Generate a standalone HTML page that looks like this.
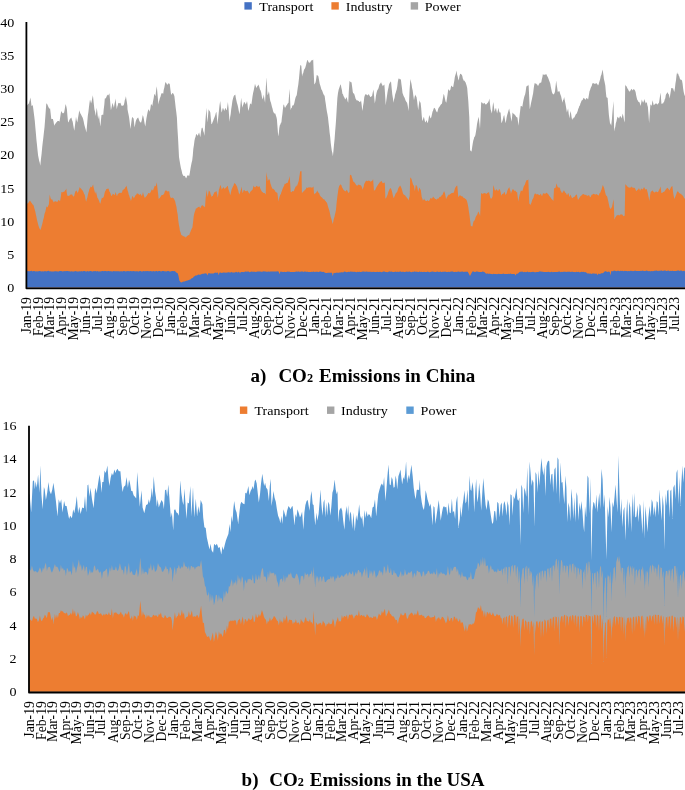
<!DOCTYPE html>
<html lang="en"><head><meta charset="utf-8"><title>CO2 Emissions</title>
<style>html,body{margin:0;padding:0;background:#fff}body{width:685px;height:790px;overflow:hidden}svg{display:block}</style></head>
<body>
<svg width="685" height="790" viewBox="0 0 685 790" font-family="'Liberation Serif', 'Times New Roman', serif" font-size="13.4" fill="#000">
<rect width="685" height="790" fill="#fff"/>
<polygon fill="#A5A5A5" points="26.3,287.6 26.3,105.2 27.4,105.2 28.0,103.9 28.5,104.1 29.1,102.8 29.7,100.5 30.4,97.5 31.0,101.4 31.5,106.0 32.2,105.6 32.8,105.2 33.5,110.4 34.2,115.9 34.8,120.9 35.4,127.9 35.9,133.5 36.5,140.6 37.0,144.9 37.6,151.0 38.1,155.4 38.6,157.9 39.2,160.9 39.7,162.4 40.3,165.7 40.9,159.4 41.6,153.7 42.2,147.2 42.8,141.9 43.3,138.0 43.9,132.4 44.5,127.2 45.0,120.9 45.7,111.6 46.3,103.6 47.0,103.7 47.7,105.2 48.2,106.5 48.8,107.7 49.5,108.7 50.1,108.5 50.7,113.7 51.3,119.2 51.8,118.7 52.4,118.9 52.9,118.9 53.6,121.7 54.2,125.8 54.9,124.3 55.6,123.5 56.2,122.5 56.9,122.0 57.5,121.0 58.2,120.9 58.9,120.9 59.5,121.7 60.1,117.7 60.6,114.5 61.2,111.0 61.8,111.9 62.5,113.5 63.0,112.5 63.6,113.4 64.1,112.6 64.6,109.9 65.1,107.1 65.6,104.1 66.3,106.3 66.9,109.3 67.5,116.6 68.1,122.5 68.7,121.8 69.4,120.0 70.1,118.7 70.7,118.2 71.4,117.6 72.0,119.9 72.7,121.7 73.2,125.0 73.8,128.3 74.3,130.7 74.9,126.0 75.4,121.9 76.0,116.7 76.6,119.9 77.3,122.5 78.0,118.1 78.6,114.4 79.3,110.2 79.8,112.1 80.4,113.4 80.9,114.3 81.5,115.4 82.0,116.6 82.6,117.6 83.1,119.1 83.7,121.6 84.2,124.2 84.8,126.6 85.3,128.2 85.8,129.9 86.4,132.4 86.9,127.0 87.3,121.7 87.8,115.9 88.4,112.1 88.9,107.5 89.4,103.5 90.0,99.5 90.6,101.5 91.1,103.6 91.7,101.2 92.3,98.1 92.9,95.3 93.4,99.9 93.9,104.7 94.4,109.3 95.1,112.0 95.7,115.9 96.7,107.7 97.2,110.9 97.7,115.7 98.2,119.2 99.0,115.1 99.7,121.5 100.4,126.6 100.9,121.0 101.5,115.1 102.1,115.0 102.6,114.6 103.2,115.1 103.7,109.6 104.3,104.8 104.8,98.6 105.5,98.6 106.1,97.8 106.7,96.2 107.3,94.5 107.8,95.4 108.4,95.3 109.4,93.2 109.9,98.5 110.4,104.5 110.9,110.2 111.4,108.3 112.0,105.3 112.5,102.8 113.2,105.2 113.9,107.7 114.4,104.4 115.0,101.7 115.5,98.6 116.2,104.6 116.8,109.3 117.3,106.5 117.8,105.3 118.3,102.8 118.8,103.2 119.4,103.3 119.9,103.1 120.4,102.8 121.1,104.8 121.8,106.0 122.4,105.8 123.1,105.6 123.7,105.2 124.3,102.9 124.8,100.1 125.3,98.9 125.9,96.2 126.4,99.6 126.9,102.3 127.4,106.0 127.5,109.3 128.0,112.1 128.6,114.8 129.1,117.6 129.8,123.1 130.4,129.1 131.0,124.8 131.5,120.9 132.1,116.7 132.6,117.5 133.1,118.0 133.6,118.4 134.6,127.5 135.1,124.9 135.6,121.9 136.2,120.0 136.9,118.8 137.5,117.9 138.2,117.6 138.7,119.1 139.3,120.8 139.8,121.7 140.5,122.5 141.1,122.5 141.7,120.5 142.2,118.0 142.8,115.1 143.4,116.8 143.9,119.2 144.6,123.4 145.3,126.6 145.8,122.8 146.4,118.4 147.1,114.8 147.7,111.7 148.4,109.3 149.0,109.9 149.7,111.8 150.4,108.3 151.0,104.1 151.7,104.7 152.3,106.0 153.0,101.4 153.7,98.0 154.3,93.7 154.9,94.7 155.5,96.2 156.1,90.6 156.8,86.3 157.3,91.8 157.9,98.4 158.4,104.4 158.9,101.8 159.4,99.9 159.9,98.1 160.5,96.8 161.0,94.8 161.6,93.2 162.1,93.1 162.7,93.5 163.2,93.7 163.7,90.1 164.3,87.8 164.8,84.9 165.3,82.2 165.9,82.6 166.4,83.3 167.0,84.6 167.5,84.8 168.1,83.8 168.6,83.3 169.2,83.4 169.8,84.3 170.4,89.6 171.1,94.5 171.7,94.5 172.2,93.0 172.8,93.2 173.3,93.5 173.9,94.7 174.4,96.2 175.1,102.2 175.7,107.7 176.3,112.2 176.9,117.6 177.4,127.7 178.0,137.3 179.0,157.1 179.7,161.2 180.3,164.8 181.0,168.6 181.6,170.4 182.3,173.7 183.0,175.2 183.5,175.9 184.1,175.8 184.6,176.0 185.2,176.4 185.7,177.7 186.3,178.2 186.9,176.5 187.6,175.2 188.1,175.6 188.7,175.5 189.2,176.0 189.9,172.5 190.5,168.6 191.1,165.3 191.6,162.8 192.2,160.4 192.8,155.3 193.3,148.9 193.9,145.3 194.5,140.6 195.0,138.2 195.6,136.7 196.1,134.0 196.8,134.6 197.5,135.7 198.0,135.2 198.5,133.8 199.1,132.4 199.7,134.7 200.3,137.3 200.9,132.5 201.6,128.3 202.1,127.6 202.7,128.3 203.3,131.3 203.8,132.6 204.4,135.7 205.4,120.9 205.9,114.7 206.5,107.7 207.3,122.5 208.0,116.6 208.6,109.3 209.2,110.5 209.7,111.1 210.3,112.6 210.9,118.9 211.4,124.2 212.0,123.7 212.5,122.2 213.1,120.9 213.6,119.5 214.2,118.0 214.7,116.7 215.3,114.9 215.8,113.0 216.4,111.8 217.0,118.2 217.5,124.2 218.2,117.5 218.9,111.0 219.5,105.6 220.2,101.1 220.8,106.3 221.5,112.6 222.0,111.2 222.5,109.1 223.0,107.7 223.6,109.3 224.3,111.0 224.9,109.1 225.4,107.7 226.1,109.4 226.8,110.2 227.3,106.6 227.9,101.9 228.5,107.8 229.0,114.7 229.6,121.7 230.1,117.3 230.7,114.1 231.2,109.3 231.8,105.6 232.4,101.1 233.0,98.4 233.7,96.2 234.2,95.2 234.7,95.3 235.3,94.5 235.8,97.7 236.4,100.6 236.9,102.8 237.6,105.0 238.2,107.7 238.9,111.5 239.6,114.3 240.1,109.1 240.6,103.3 241.2,97.8 241.8,103.4 242.3,107.7 242.9,105.4 243.4,104.2 244.0,101.9 244.5,102.2 245.1,103.1 245.6,104.4 246.3,103.3 247.0,101.1 247.5,104.0 247.9,108.1 248.4,111.0 249.0,108.7 249.5,106.5 250.1,103.6 250.7,103.8 251.4,104.4 252.0,100.3 252.5,96.4 253.1,92.9 253.7,90.4 254.4,87.0 255.0,83.8 255.6,85.8 256.1,87.1 256.7,87.9 257.2,86.3 257.8,85.8 258.3,84.6 258.9,85.7 259.4,87.3 260.0,89.6 260.6,90.6 261.3,92.9 261.9,96.7 262.6,99.5 263.2,97.4 263.8,94.5 264.4,99.1 265.1,102.8 265.7,89.8 266.4,77.2 267.0,86.4 267.5,95.3 268.2,93.7 268.9,91.2 269.4,94.3 269.8,97.9 270.3,101.1 270.9,102.6 271.4,104.4 272.0,106.9 272.5,108.5 273.1,111.3 273.6,112.6 274.2,113.0 274.7,113.8 275.3,113.5 275.8,115.3 276.4,117.0 276.9,119.2 277.6,128.3 278.2,136.5 278.8,133.1 279.3,128.1 279.9,125.0 280.4,124.4 280.9,122.8 281.4,122.5 281.9,117.4 282.4,114.0 283.0,108.3 283.5,104.4 284.1,105.1 284.6,107.3 285.2,107.7 285.7,106.8 286.3,105.5 286.8,105.2 287.4,103.9 287.9,103.2 288.5,102.8 289.0,96.1 289.6,88.8 290.6,110.2 291.1,108.2 291.7,108.0 292.2,106.0 292.8,105.3 293.3,105.6 293.9,104.4 294.4,102.8 295.0,99.7 295.5,97.8 296.1,96.2 296.7,95.3 297.2,91.7 297.8,87.6 298.3,84.6 299.0,78.3 299.7,70.8 300.3,64.9 301.3,65.7 302.1,76.4 302.7,73.8 303.2,73.2 303.8,70.6 304.3,69.3 304.9,68.6 305.4,67.3 306.1,64.8 306.7,62.1 307.4,59.9 307.9,60.2 308.5,62.2 309.0,62.4 309.6,62.8 310.1,62.5 310.7,61.6 311.3,60.5 311.9,60.2 312.5,60.3 313.2,59.6 313.7,72.8 314.3,84.6 315.0,83.5 315.6,82.2 316.2,78.7 316.8,74.8 317.3,75.5 317.9,75.5 318.4,76.4 319.1,80.2 319.7,83.8 320.3,85.5 320.8,87.3 321.4,89.6 321.9,90.1 322.5,91.5 323.0,92.9 323.6,94.6 324.1,95.0 324.7,96.2 325.2,100.2 325.8,104.1 326.3,107.7 326.9,111.6 327.4,114.1 328.0,117.6 328.5,122.2 329.1,127.2 329.6,132.4 330.2,137.1 330.7,142.8 331.3,147.2 331.8,150.8 332.4,153.0 332.9,156.3 333.5,150.3 334.0,144.8 334.6,139.0 335.1,132.0 335.7,124.8 336.2,117.6 336.8,107.3 337.4,97.8 338.0,93.0 338.7,89.6 339.4,87.5 340.1,85.5 340.8,84.3 341.3,87.5 341.9,90.0 342.4,93.7 343.0,94.2 343.5,96.1 344.1,97.0 344.6,97.9 345.2,99.5 345.9,98.6 346.5,97.0 347.1,98.9 347.6,101.3 348.2,102.8 348.8,91.4 349.5,81.0 350.1,81.4 350.8,82.2 351.5,82.2 352.1,86.5 352.8,92.0 353.3,93.5 353.9,93.2 354.4,94.5 355.0,96.6 355.5,98.5 356.1,99.5 356.7,100.5 357.4,100.3 358.1,101.1 358.6,100.8 359.2,101.7 359.7,101.9 360.4,101.7 361.0,100.3 361.5,103.6 362.0,108.0 362.5,111.0 363.1,105.8 363.7,102.2 364.3,97.0 364.9,95.2 365.4,94.5 366.0,93.7 366.5,94.8 367.1,95.2 367.6,95.3 368.2,95.1 368.8,93.7 369.3,95.3 369.9,96.2 370.4,97.0 371.0,97.0 371.5,96.0 372.0,96.2 372.7,92.8 373.4,89.6 373.9,93.8 374.4,99.2 374.8,103.6 375.4,100.2 375.9,96.1 376.5,92.9 377.2,90.6 377.8,89.6 378.4,88.6 378.9,86.7 379.5,84.6 380.0,83.9 380.6,83.1 381.1,82.2 381.7,84.0 382.2,84.8 382.8,86.3 383.3,85.6 383.9,85.0 384.4,84.6 385.1,94.6 385.7,105.2 386.3,100.4 386.8,97.2 387.4,92.9 387.9,90.0 388.5,87.5 389.0,84.6 389.7,82.9 390.3,82.2 391.0,81.3 391.6,87.4 392.3,94.5 392.9,98.1 393.5,102.8 394.0,99.7 394.6,97.7 395.1,94.5 395.7,92.7 396.2,91.1 396.7,89.6 397.3,86.2 397.8,82.1 398.4,78.9 399.0,78.3 399.6,79.2 400.2,79.2 400.9,79.4 401.4,84.1 402.0,88.3 402.5,92.9 403.1,94.5 403.6,95.9 404.2,97.0 404.7,98.0 405.3,99.7 405.8,101.1 406.5,101.9 407.1,102.8 407.6,105.1 408.1,108.1 408.6,111.0 409.6,89.6 410.4,78.9 411.0,81.8 411.6,84.6 412.1,88.1 412.7,90.4 413.4,95.9 414.0,100.3 414.6,97.1 415.2,94.5 415.8,96.0 416.5,97.0 417.1,100.7 417.6,105.2 418.2,110.2 418.8,105.2 419.5,100.3 420.0,102.0 420.6,102.8 421.2,108.3 421.7,115.2 422.3,120.9 422.8,120.0 423.4,117.9 423.9,116.7 424.6,119.9 425.2,122.5 425.8,121.8 426.4,120.0 427.0,121.5 427.7,123.3 428.2,120.9 428.7,118.2 429.2,115.1 429.7,116.3 430.3,117.8 430.8,118.4 431.4,116.8 431.9,114.6 432.5,111.8 433.1,110.5 433.7,108.6 434.3,107.7 434.8,108.2 435.3,108.9 435.8,110.2 436.4,111.5 437.1,112.6 437.6,111.3 438.2,108.7 438.7,107.7 439.3,107.1 439.8,106.3 440.4,105.2 440.9,104.5 441.5,104.1 442.0,103.6 442.6,99.8 443.1,97.3 443.7,93.7 444.3,95.5 444.9,98.6 445.6,101.4 446.3,102.8 446.9,98.8 447.6,94.2 448.2,89.6 448.8,89.5 449.3,90.7 449.9,90.4 450.4,89.4 451.0,86.6 451.5,85.5 452.1,86.4 452.6,87.0 453.2,87.1 453.7,84.0 454.3,80.8 454.8,77.2 455.4,75.0 455.9,73.4 456.5,70.6 457.1,74.6 457.8,77.1 458.4,80.5 459.0,78.8 459.5,76.0 460.1,73.9 460.6,73.7 461.2,74.2 461.7,74.8 462.3,75.9 462.8,78.6 463.4,79.7 463.9,81.0 464.5,80.4 465.0,81.7 465.5,82.2 466.1,84.0 466.6,85.5 467.2,87.9 467.7,94.2 468.3,101.1 469.3,117.6 470.1,150.5 470.6,150.4 471.1,151.4 471.6,151.3 472.2,147.1 472.7,143.8 473.3,140.6 473.8,139.1 474.3,137.1 474.9,136.5 475.4,134.9 476.0,131.4 476.5,128.2 477.0,124.2 477.6,121.3 478.1,118.9 478.7,116.7 479.4,123.0 480.0,129.1 480.6,115.2 481.2,101.9 481.7,102.6 482.3,102.7 482.8,103.6 483.4,103.6 483.9,103.4 484.5,102.8 485.0,103.7 485.6,104.5 486.1,104.4 486.7,103.9 487.2,103.3 487.8,102.8 488.3,101.9 488.9,100.4 489.4,98.6 490.0,104.1 490.6,109.3 491.2,111.2 491.9,113.5 492.5,107.4 493.2,101.9 493.7,104.7 494.2,108.9 494.7,111.8 495.3,109.2 496.0,107.7 496.6,110.9 497.1,113.5 497.8,110.6 498.5,107.7 499.0,110.8 499.6,112.6 500.6,112.6 501.4,123.3 502.0,122.1 502.5,120.7 503.1,118.4 503.6,116.2 504.2,115.1 504.9,119.2 505.5,123.3 506.1,120.7 506.6,117.6 507.2,115.1 507.8,112.9 508.5,110.5 509.2,108.5 509.7,111.6 510.3,113.9 510.8,117.6 511.6,121.7 512.5,112.6 513.0,113.1 513.5,113.7 514.1,114.3 514.6,114.6 515.2,115.2 515.7,115.9 516.3,116.9 516.8,117.3 517.4,117.6 518.0,121.7 518.5,125.8 519.5,115.9 520.1,111.2 520.7,106.0 521.2,106.1 521.8,106.2 522.3,106.9 522.9,103.2 523.4,100.5 524.0,97.8 524.5,96.0 525.1,94.5 525.6,92.0 526.4,86.3 527.0,86.3 527.5,85.5 528.1,85.7 528.6,84.6 529.2,96.9 529.7,109.3 530.4,106.5 531.1,102.8 531.6,100.4 532.0,98.7 532.5,96.2 533.1,93.6 533.6,89.3 534.1,85.8 534.7,83.0 535.2,83.4 535.8,83.6 536.3,83.8 536.9,84.4 537.4,84.8 538.0,86.3 538.5,85.0 539.1,84.0 539.6,83.0 540.2,82.6 540.7,82.9 541.3,82.2 541.8,79.5 542.4,77.0 542.9,73.9 543.5,74.8 544.0,74.8 544.6,74.8 545.1,74.5 545.7,74.6 546.2,73.9 546.8,75.2 547.3,76.3 547.9,77.2 548.6,78.9 549.2,80.7 549.7,82.0 550.3,83.8 550.8,86.7 551.4,89.5 551.9,92.0 552.5,93.5 553.0,94.1 553.6,94.5 554.2,93.8 554.9,92.0 555.5,86.7 556.2,80.5 556.7,84.8 557.3,88.4 557.8,92.0 558.4,91.6 558.9,91.2 559.5,91.2 560.0,93.2 560.6,95.0 561.1,96.2 561.8,99.5 562.5,102.8 563.0,100.3 563.6,99.4 564.1,97.0 564.6,99.4 565.1,101.9 565.6,104.4 566.2,107.9 566.9,112.6 567.5,110.6 568.1,108.5 568.7,113.8 569.4,118.4 569.9,114.6 570.5,111.0 571.1,113.8 571.6,117.2 572.2,120.0 572.7,118.5 573.3,118.4 573.8,117.6 574.4,117.4 574.9,116.2 575.5,115.1 576.0,114.1 576.6,113.7 577.1,112.6 577.7,111.1 578.2,108.9 578.8,107.7 579.3,105.9 579.9,105.5 580.4,103.6 581.0,102.2 581.5,100.8 582.0,100.3 582.6,99.9 583.1,98.7 583.7,97.8 584.2,98.2 584.8,98.9 585.3,99.5 585.9,99.4 586.4,98.1 587.0,98.1 587.6,99.0 588.1,99.5 588.8,95.6 589.5,91.2 590.0,90.3 590.6,88.2 591.1,87.1 591.7,85.9 592.2,84.0 592.8,83.0 593.3,83.4 593.9,83.1 594.4,83.8 594.9,83.9 595.5,83.8 596.0,83.0 596.7,83.6 597.4,84.3 598.0,85.5 598.6,84.5 599.1,82.5 599.6,81.0 600.2,78.9 600.8,75.9 601.4,74.7 602.0,72.0 602.6,69.5 603.3,73.9 603.9,78.9 604.6,82.1 605.3,85.5 605.8,91.6 606.4,97.0 607.0,97.8 607.6,97.8 608.2,106.0 608.9,115.1 609.5,119.4 610.0,123.3 610.6,124.1 611.2,125.8 611.9,119.5 612.5,111.8 613.5,101.1 614.2,131.6 614.7,128.7 615.3,126.7 615.8,123.3 616.4,121.5 616.9,119.1 617.5,116.7 618.0,117.0 618.5,117.9 619.1,118.4 619.7,116.7 620.3,115.9 620.9,116.7 621.6,118.4 622.1,116.2 622.7,113.5 623.4,116.6 624.0,120.0 624.7,122.5 625.2,84.6 625.7,85.8 626.3,85.9 626.8,87.1 627.5,88.6 628.2,89.6 628.7,90.7 629.3,91.0 629.8,92.0 630.4,90.4 630.9,89.7 631.4,88.8 632.0,89.6 632.6,90.4 633.3,89.3 633.9,89.2 634.5,89.7 635.0,90.5 635.6,92.0 636.2,95.5 636.9,98.6 637.4,100.3 637.9,100.4 638.4,101.9 639.0,101.7 639.7,102.8 640.5,106.0 641.2,103.0 641.8,99.5 642.5,101.5 643.1,102.8 643.7,101.6 644.3,99.1 644.8,100.8 645.3,101.9 645.8,103.6 646.8,101.9 647.3,104.9 647.9,106.9 648.5,114.6 649.1,123.3 649.7,114.1 650.4,104.4 651.0,104.7 651.7,106.0 652.5,100.3 653.1,102.6 653.7,105.2 654.3,104.7 655.0,104.0 655.7,103.6 656.2,103.4 656.8,103.7 657.3,104.4 657.9,104.3 658.4,103.2 659.0,102.8 659.5,99.5 660.1,95.5 660.6,92.5 661.4,103.6 662.0,103.9 662.5,103.3 663.1,103.6 663.6,102.3 664.2,101.4 664.7,99.5 665.3,98.2 665.8,95.0 666.4,93.7 667.0,93.3 667.5,92.0 668.2,93.8 668.9,94.5 669.7,98.6 670.2,94.8 670.8,91.3 671.3,87.9 671.9,88.0 672.4,88.5 673.0,87.9 673.6,89.9 674.3,92.0 674.9,88.5 675.4,83.8 676.0,80.3 676.5,75.6 677.1,72.3 677.6,74.0 678.2,73.8 678.7,75.6 679.3,76.5 679.8,78.6 680.4,79.7 680.9,79.4 681.5,80.1 682.0,80.5 682.6,83.8 683.1,88.2 683.7,92.0 684.3,94.6 685.0,96.2 685.7,97.3 686.3,96.6 687.0,97.8 687.0,97.8 687.0,287.6"/>
<polygon fill="#ED7D31" points="26.3,287.6 26.3,203.4 27.2,203.4 27.8,203.5 28.3,203.0 28.8,202.1 29.4,201.2 29.9,200.8 30.4,201.0 31.0,202.2 31.5,202.8 32.0,203.4 32.6,204.4 33.1,204.7 33.7,205.8 34.2,207.8 34.7,209.6 35.3,211.4 35.8,214.2 36.3,216.3 36.9,219.4 37.4,221.5 37.9,223.6 38.5,225.8 39.1,227.4 39.8,229.1 40.4,229.9 41.0,228.5 41.6,226.2 42.2,224.2 42.7,222.0 43.2,219.7 43.8,217.8 44.3,215.1 44.8,213.0 45.4,211.4 45.9,208.9 46.5,206.6 47.1,206.8 47.6,207.4 48.3,205.6 48.9,204.2 49.7,194.5 50.4,197.4 51.0,199.3 51.6,199.4 52.1,199.3 52.7,200.5 53.2,201.2 53.7,202.6 54.3,201.6 54.8,201.6 55.3,201.4 55.9,201.1 56.4,201.7 56.9,201.8 57.5,201.8 58.0,200.9 58.5,200.1 59.1,200.0 59.6,201.2 60.1,201.0 60.8,196.9 61.4,192.1 62.0,192.3 62.5,192.4 63.0,191.8 63.6,192.0 64.1,191.8 64.6,191.3 65.2,190.2 65.7,190.1 66.3,188.6 66.8,192.9 67.4,196.1 67.9,195.6 68.4,196.1 69.0,195.7 69.5,195.5 70.1,194.9 70.6,194.5 71.1,194.6 71.7,194.5 72.2,194.5 72.7,195.8 73.3,196.1 73.8,196.9 74.3,195.5 74.9,193.0 75.4,191.3 76.0,191.2 76.5,190.2 77.2,192.0 77.8,192.9 78.5,190.9 79.1,189.0 79.7,187.0 80.3,188.1 80.8,188.5 81.3,188.9 81.9,189.7 82.4,190.2 83.0,191.3 83.5,192.2 84.0,193.7 84.6,194.5 85.1,196.5 85.6,199.8 86.2,201.8 86.7,199.3 87.2,198.0 87.8,195.3 88.3,193.0 88.8,191.6 89.4,188.9 90.0,187.9 90.7,186.5 91.2,186.9 91.8,187.3 92.4,185.9 93.1,184.4 93.6,187.2 94.2,189.7 95.2,193.7 96.0,191.3 96.4,193.6 96.9,195.4 97.4,197.7 98.0,198.6 98.7,200.1 99.2,201.3 99.8,203.0 100.3,203.7 100.8,201.8 101.4,199.2 101.9,197.7 102.4,198.0 103.0,197.7 103.5,197.3 104.0,195.8 104.6,192.9 105.1,191.3 105.6,190.8 106.2,189.2 106.7,188.9 107.3,189.0 107.8,188.4 108.3,188.6 108.9,189.4 109.4,191.4 109.9,192.1 110.6,193.7 111.2,196.1 111.8,195.4 112.3,195.0 112.8,193.7 113.4,194.0 113.9,194.4 114.4,195.3 115.0,194.2 115.6,192.1 116.2,194.0 116.8,196.1 117.3,195.6 117.8,194.0 118.3,193.7 118.8,193.3 119.4,192.8 119.9,192.9 120.4,193.1 121.0,192.4 121.5,192.9 122.0,192.4 122.6,190.2 123.1,189.7 123.6,189.7 124.2,188.6 124.7,188.9 125.2,187.4 125.8,186.9 126.3,185.4 127.0,187.5 127.6,190.5 128.2,191.9 128.7,194.4 129.3,195.8 129.8,197.7 130.4,198.8 130.9,201.0 131.6,199.1 132.2,196.1 132.8,196.5 133.3,197.2 133.8,198.5 134.4,197.3 134.9,196.5 135.4,195.3 136.1,195.0 136.8,193.6 137.5,193.4 138.1,193.7 138.6,193.9 139.1,195.0 139.7,194.5 140.2,194.5 140.7,193.7 141.3,195.2 141.9,196.1 142.4,194.6 143.0,192.1 143.5,194.3 144.1,196.3 144.6,197.7 145.3,197.4 146.0,196.6 146.7,196.1 147.2,194.7 147.8,194.2 148.3,192.9 148.8,193.0 149.4,193.0 149.9,193.7 150.4,192.3 151.0,191.5 151.5,189.7 152.0,189.5 152.6,190.3 153.1,190.5 153.6,188.8 154.2,187.3 154.7,185.7 155.3,185.7 155.8,186.5 156.8,182.2 157.4,187.7 157.9,192.1 158.7,199.3 159.3,198.3 159.8,197.9 160.3,196.9 161.0,196.2 161.6,195.1 162.3,195.0 162.8,194.9 163.3,194.3 163.9,194.5 164.4,192.7 164.9,191.3 165.5,190.5 166.0,190.4 166.5,190.6 167.1,191.3 167.8,191.5 168.5,191.3 169.2,191.3 169.7,194.7 170.3,196.9 170.8,197.7 171.4,198.1 171.9,197.7 172.4,197.6 173.0,198.0 173.5,198.2 174.0,198.8 174.6,200.2 175.1,201.0 175.7,203.9 176.4,206.6 177.0,210.9 177.7,214.6 178.2,219.7 178.8,224.2 179.4,227.2 179.9,230.7 180.6,232.6 181.2,234.7 181.7,235.2 182.3,235.2 182.8,236.3 183.3,235.9 183.9,236.5 184.4,236.8 185.0,236.5 185.5,237.5 186.0,237.4 186.6,236.6 187.1,235.9 187.6,235.8 188.2,235.2 188.7,235.0 189.2,235.2 189.8,233.3 190.3,232.2 190.8,230.7 191.4,229.5 191.9,228.3 192.4,227.4 193.1,222.0 193.7,216.2 194.3,213.5 194.9,211.4 195.4,210.3 196.0,208.2 196.5,208.5 197.1,207.9 197.6,207.4 198.1,207.0 198.7,206.9 199.2,206.6 199.8,207.5 200.5,208.2 201.0,206.6 201.5,205.9 202.1,205.0 202.6,205.5 203.2,205.7 203.7,206.6 204.3,206.5 205.0,207.4 205.6,198.5 206.6,189.7 207.1,193.7 207.7,196.9 208.3,193.6 208.8,190.5 209.5,191.3 210.1,192.1 210.6,194.2 211.2,195.5 211.7,196.9 212.3,195.9 212.8,195.9 213.3,194.5 213.9,193.6 214.4,192.3 214.9,192.1 215.5,192.1 216.0,191.1 216.5,191.3 217.2,194.3 217.8,197.7 218.4,194.1 218.9,189.7 219.5,188.3 220.0,185.9 220.6,184.9 221.2,187.2 221.8,189.7 222.3,188.8 222.8,188.1 223.3,187.3 223.8,187.5 224.4,188.5 224.9,188.9 225.4,187.9 226.0,187.6 226.5,187.3 227.1,186.3 227.8,185.7 228.4,189.0 229.1,191.3 229.6,192.8 230.2,195.3 230.7,193.5 231.3,190.7 231.8,188.9 232.3,187.9 232.9,186.6 233.4,185.7 233.9,184.2 234.5,182.8 235.0,183.8 235.6,184.1 236.1,184.9 236.6,185.8 237.2,187.1 237.7,188.9 238.2,190.3 238.8,193.1 239.3,194.5 239.9,193.1 240.4,191.3 241.0,189.5 241.6,186.5 242.5,192.9 243.1,192.1 243.6,190.2 244.1,189.7 244.7,190.4 245.2,191.1 245.7,191.3 246.3,191.3 246.8,190.8 247.3,190.5 248.0,191.4 248.6,192.6 249.3,193.7 249.8,193.3 250.3,191.8 250.9,191.3 251.4,190.8 251.9,190.2 252.5,189.7 253.0,188.1 253.6,185.4 254.2,186.7 254.9,187.3 255.4,187.3 256.0,186.6 256.5,185.7 257.0,186.0 257.6,186.4 258.1,187.3 258.7,186.6 259.2,186.0 259.8,187.0 260.3,188.4 260.8,189.7 261.4,190.7 261.9,191.8 262.4,192.1 263.0,192.5 263.5,193.0 264.0,192.9 264.6,193.0 265.1,193.8 265.7,194.5 266.3,172.0 266.8,175.6 267.3,177.5 267.7,180.9 268.3,180.2 268.8,179.3 269.3,179.3 269.9,180.6 270.4,183.5 271.0,184.9 271.5,186.8 272.0,187.7 272.6,188.9 273.1,188.7 273.6,189.2 274.2,189.7 274.7,190.2 275.2,191.5 275.8,192.1 276.3,192.6 276.8,192.6 277.4,192.9 277.9,197.2 278.5,201.4 279.1,198.3 279.8,196.1 280.3,194.8 280.9,194.0 281.4,192.1 281.9,191.1 282.5,189.0 283.0,188.1 283.5,186.8 284.1,185.7 284.6,184.1 285.1,183.5 285.7,184.0 286.2,183.3 286.7,183.0 287.3,183.0 287.8,182.5 288.5,180.2 289.1,178.8 289.7,176.1 290.7,192.1 291.2,192.2 291.8,191.7 292.3,191.3 292.8,190.9 293.4,191.2 293.9,191.3 294.5,189.1 295.0,188.2 295.5,186.5 296.1,186.7 296.6,185.6 297.1,185.7 297.7,184.1 298.2,182.5 298.7,180.9 299.2,177.4 299.7,174.5 300.2,170.9 300.8,171.4 301.5,170.9 301.9,192.9 302.5,192.6 303.0,191.8 303.6,191.3 304.1,191.3 304.6,190.0 305.2,189.7 305.7,189.2 306.2,188.3 306.8,187.3 307.3,187.7 307.8,187.9 308.4,187.6 308.9,187.2 309.4,187.6 310.0,187.3 310.5,187.3 311.0,187.7 311.6,187.6 312.2,187.8 312.9,187.0 313.5,186.5 314.1,194.5 314.7,193.4 315.2,193.4 315.8,192.9 316.2,192.4 316.7,191.8 317.2,190.5 317.7,191.5 318.3,192.5 318.8,192.9 319.3,193.4 319.9,195.6 320.4,196.1 321.1,196.9 321.7,197.3 322.3,197.7 322.9,198.8 323.4,199.3 323.9,199.3 324.5,199.4 325.0,200.8 325.6,201.0 326.1,202.1 326.6,202.2 327.2,203.4 327.7,205.5 328.2,207.2 328.8,209.0 329.3,210.6 329.9,213.0 330.5,216.2 331.2,218.6 331.7,219.9 332.2,222.3 332.8,223.9 333.3,221.5 333.8,219.0 334.4,217.0 334.9,214.7 335.5,212.2 336.0,209.8 336.6,203.0 337.3,196.9 337.8,193.5 338.4,188.9 339.0,186.5 339.7,185.3 340.3,184.5 340.9,184.4 341.5,185.6 342.0,187.3 342.5,188.1 343.1,189.1 343.6,190.0 344.2,190.5 344.7,190.8 345.2,191.3 345.8,191.3 346.7,189.7 347.2,190.6 347.7,191.6 348.2,192.9 348.8,192.5 349.5,192.1 349.9,175.3 350.5,174.8 351.0,175.1 351.5,175.7 352.0,177.8 352.5,178.8 353.0,180.9 353.5,181.7 354.1,182.3 354.6,182.5 355.1,183.2 355.7,184.3 356.2,184.9 356.7,185.4 357.3,185.6 357.8,185.4 358.3,184.8 358.9,184.6 359.4,184.9 359.9,184.9 360.5,185.2 361.0,185.4 361.6,186.6 362.1,187.7 362.6,189.7 363.2,187.9 363.7,186.5 364.2,184.1 364.8,182.9 365.3,182.0 365.8,180.9 366.4,180.7 366.9,180.8 367.4,180.9 368.0,181.2 368.5,180.4 369.0,180.6 369.6,181.1 370.1,181.3 370.7,181.7 371.3,181.3 371.9,180.9 372.5,180.4 373.1,178.9 374.0,191.3 374.6,190.0 375.1,190.1 375.6,188.9 376.2,187.6 376.7,186.9 377.2,185.7 377.8,185.2 378.4,184.1 379.0,183.5 379.6,182.5 380.2,181.8 380.7,181.8 381.3,180.9 381.8,181.2 382.3,182.6 382.9,183.3 383.5,182.9 384.1,182.8 384.8,182.5 385.4,198.5 386.0,198.2 386.5,197.3 387.0,196.1 387.6,194.7 388.1,192.7 388.6,191.3 389.2,189.9 389.7,189.1 390.2,188.1 390.9,188.6 391.5,189.7 392.2,192.3 392.8,195.3 393.4,197.3 393.9,198.2 394.5,196.3 395.0,195.6 395.5,193.7 396.1,193.0 396.6,192.5 397.1,192.1 397.7,190.3 398.2,188.4 398.8,187.3 399.3,186.7 399.8,185.8 400.4,185.7 400.9,187.0 401.4,188.1 402.0,189.7 402.5,191.8 403.0,193.4 403.6,194.5 404.1,194.7 404.6,195.2 405.2,195.3 405.7,196.6 406.2,196.7 406.8,197.7 407.4,198.2 408.0,199.2 408.6,200.5 409.1,197.9 409.7,196.1 410.2,176.9 410.6,177.9 411.1,178.3 411.6,179.3 412.2,181.5 412.9,184.1 413.4,185.2 414.0,185.7 414.8,191.3 415.8,184.9 416.3,185.1 416.7,186.3 417.2,186.5 418.2,192.1 418.7,190.0 419.3,187.6 419.8,188.2 420.3,189.4 420.8,189.7 421.7,196.9 422.3,198.5 422.8,200.5 423.5,200.0 424.1,198.5 424.7,199.9 425.2,200.2 425.7,201.0 426.3,200.9 426.8,201.0 427.3,200.1 427.9,200.7 428.4,201.0 428.9,201.0 429.5,200.3 430.0,199.3 430.6,197.7 431.2,198.4 431.8,198.5 432.4,198.2 433.0,196.6 433.5,196.9 434.0,197.8 434.6,198.2 435.2,199.0 435.9,199.1 436.5,199.8 437.0,199.3 437.6,198.6 438.1,198.5 438.6,198.6 439.2,197.3 439.7,196.9 440.2,196.6 440.8,196.9 441.3,196.1 441.8,195.0 442.4,195.1 442.9,193.7 443.6,192.1 444.2,191.3 445.1,193.7 446.1,199.3 446.6,197.7 447.2,197.0 447.7,196.1 448.3,195.2 448.8,194.5 449.4,194.8 449.9,194.5 450.4,193.7 451.0,193.8 451.5,193.1 452.0,192.9 452.6,193.0 453.1,192.6 453.7,192.9 454.2,191.3 454.8,188.9 455.4,187.6 456.1,186.5 456.7,185.8 457.3,185.7 458.3,196.9 458.9,196.6 459.5,195.4 460.1,195.3 460.6,195.4 461.1,196.4 461.7,196.1 462.2,196.2 462.8,196.8 463.3,197.7 463.8,197.7 464.4,198.0 464.9,198.5 465.4,199.0 466.0,199.3 466.5,200.1 467.1,201.6 467.6,203.4 468.3,207.1 468.9,211.4 469.5,215.1 470.0,219.4 470.8,225.8 471.4,226.2 471.9,226.2 472.4,226.6 473.4,221.8 473.9,220.9 474.5,220.5 475.0,219.4 475.5,217.6 476.1,216.3 476.6,215.4 477.3,214.5 477.9,212.6 478.5,211.4 479.1,213.3 479.6,214.2 480.1,216.2 481.1,192.9 481.6,193.2 482.2,193.9 482.7,193.7 483.3,193.3 483.8,193.5 484.3,192.9 484.9,193.3 485.4,193.3 485.9,193.7 486.5,194.1 487.0,193.1 487.5,192.9 488.0,192.6 488.5,192.5 489.0,192.1 489.6,194.7 490.3,197.7 490.7,198.4 491.2,198.4 491.7,198.5 492.7,196.1 493.3,184.9 493.9,186.9 494.4,188.7 494.9,190.5 495.5,190.6 496.0,190.0 496.5,188.9 497.1,190.1 497.6,190.5 498.1,191.3 499.1,188.9 499.7,189.6 500.2,190.5 500.8,193.1 501.3,195.7 501.9,194.5 502.4,193.9 503.0,193.7 503.5,193.8 504.0,192.2 504.6,192.1 505.2,194.1 505.8,195.0 506.4,193.7 506.9,192.5 507.4,190.5 508.1,188.9 508.7,188.1 509.4,187.3 509.9,189.8 510.4,191.0 511.0,193.7 511.5,191.8 512.1,190.5 512.6,189.2 513.1,189.3 513.7,189.7 514.2,190.5 514.7,191.0 515.3,190.6 515.8,191.3 516.4,192.3 517.1,192.1 517.7,197.0 518.4,201.4 519.0,197.4 519.7,194.5 520.2,193.0 520.8,190.5 521.3,190.5 521.7,191.0 522.2,191.3 522.9,189.4 523.5,187.3 524.0,185.8 524.6,185.2 525.1,184.1 525.6,182.2 526.2,181.1 526.7,180.1 527.3,180.3 527.8,179.9 528.3,179.3 529.3,203.4 529.9,204.2 530.4,205.0 530.9,203.8 531.4,202.7 531.9,201.0 532.4,199.4 532.9,198.8 533.5,197.7 534.1,195.3 534.7,193.7 535.3,193.5 535.8,193.8 536.4,194.5 536.9,194.2 537.4,194.0 538.0,194.5 538.5,194.5 539.0,194.9 539.6,195.3 540.2,194.5 540.9,193.4 541.4,195.2 542.0,196.1 542.5,195.0 543.1,192.9 543.6,193.4 544.2,193.5 544.7,193.7 545.3,193.8 546.0,192.9 546.5,192.8 547.1,193.0 547.6,193.7 548.5,194.5 549.1,195.7 549.6,196.3 550.1,196.9 550.7,197.4 551.2,198.4 551.7,199.3 552.3,199.6 552.8,200.3 553.4,201.0 554.0,188.6 554.5,188.3 555.0,188.1 555.4,188.1 556.0,186.1 556.6,183.3 557.2,185.7 557.8,187.3 558.4,187.5 558.9,187.5 559.5,187.6 560.0,188.6 560.5,190.4 561.1,191.3 561.7,192.7 562.3,192.9 562.9,191.7 563.4,191.3 563.9,190.2 564.5,191.3 565.0,192.2 565.6,192.9 566.1,193.2 566.6,194.6 567.2,195.3 567.7,193.8 568.3,192.9 568.8,194.6 569.4,196.9 570.1,195.8 570.7,194.5 571.3,196.5 572.0,198.2 572.5,197.9 573.0,197.7 573.6,196.9 574.1,196.9 574.7,196.4 575.2,196.1 575.7,194.9 576.3,195.1 576.8,194.0 577.4,197.3 577.9,199.8 578.5,199.5 579.0,198.6 579.5,197.7 580.1,196.6 580.6,196.3 581.1,196.1 581.7,195.0 582.2,194.9 582.7,194.0 583.3,194.3 583.8,194.0 584.3,194.5 584.9,195.1 585.4,195.1 586.0,194.5 586.5,195.5 587.0,195.6 587.6,196.1 588.1,195.6 588.6,195.2 589.2,195.3 589.8,196.7 590.4,197.3 590.9,196.6 591.4,195.2 591.9,194.5 592.4,194.7 593.0,194.1 593.5,193.7 594.0,193.9 594.6,194.2 595.1,194.5 595.6,194.6 596.2,194.2 596.7,194.0 597.2,194.8 597.8,194.7 598.3,195.7 598.9,195.0 599.4,193.6 599.9,192.9 600.5,192.3 601.0,190.4 601.5,189.7 602.2,187.1 602.8,184.9 603.5,186.5 604.1,188.1 604.6,190.1 605.2,192.4 605.7,194.5 606.2,195.8 606.8,195.8 607.3,196.9 607.9,199.7 608.4,201.8 609.0,204.8 609.6,207.4 610.2,208.5 610.8,209.0 611.5,207.7 612.1,206.6 612.6,204.1 613.1,201.6 613.6,199.3 614.4,219.7 614.9,218.6 615.4,217.3 616.0,216.5 616.5,215.6 617.1,215.4 617.6,214.9 618.1,214.7 618.7,215.2 619.2,215.4 619.7,215.2 620.3,214.6 620.8,214.6 621.3,214.2 621.9,214.7 622.4,214.6 623.0,215.8 623.7,216.2 624.7,215.4 625.3,184.4 625.8,184.5 626.4,185.4 626.9,185.7 627.4,186.4 628.0,187.2 628.5,187.3 629.0,187.8 629.6,187.6 630.1,188.1 630.8,186.9 631.4,186.5 631.9,187.4 632.5,187.3 633.0,188.1 633.5,187.4 634.1,188.2 634.6,187.6 635.1,188.5 635.7,189.9 636.2,191.3 636.8,190.6 637.3,190.0 637.8,189.7 638.4,189.2 638.9,188.1 639.5,189.3 640.1,190.8 640.7,189.6 641.4,188.6 641.9,188.7 642.4,189.4 643.0,189.2 643.6,187.7 644.2,187.3 644.8,188.6 645.4,189.7 645.9,188.9 646.5,188.9 647.1,190.5 647.8,192.9 648.3,195.7 648.8,198.1 649.4,201.0 650.0,196.0 650.7,192.1 651.2,191.6 651.7,191.3 652.3,190.2 652.8,191.0 653.3,191.5 653.9,192.1 654.4,192.5 654.8,192.6 655.3,192.1 655.8,191.6 656.4,191.7 656.9,191.8 657.4,192.2 658.0,192.0 658.5,191.3 659.1,189.8 659.6,188.9 660.6,186.5 661.4,192.9 661.9,192.9 662.5,192.8 663.0,192.1 663.5,192.0 664.1,191.8 664.6,191.3 665.1,190.5 665.7,189.4 666.2,188.9 666.8,188.3 667.3,187.8 667.8,188.1 668.4,189.1 668.9,189.3 669.4,190.5 670.0,189.6 670.5,188.2 671.0,187.3 671.7,186.4 672.3,185.7 673.3,193.7 673.9,196.9 674.6,198.9 675.1,197.3 675.6,195.9 676.2,194.5 676.8,192.8 677.5,191.3 678.0,191.5 678.5,192.1 679.1,192.9 679.6,193.2 680.1,193.8 680.7,193.7 681.2,193.7 681.7,195.1 682.3,195.0 682.8,196.1 683.3,196.3 683.9,197.7 684.5,198.5 685.2,198.7 685.8,199.3 687.0,199.3 687.0,287.6"/>
<polygon fill="#4472C4" points="26.3,287.6 26.3,271.2 27.2,271.2 28.1,271.1 29.0,271.3 29.9,271.3 30.8,270.9 31.7,270.8 32.6,271.4 33.5,271.0 34.4,271.0 35.3,271.6 36.2,271.2 37.1,271.4 38.0,271.2 38.9,271.3 39.8,270.9 40.7,271.3 41.6,271.5 42.5,271.2 43.4,271.4 44.3,271.3 45.2,270.9 46.1,271.4 47.0,271.3 47.9,271.0 48.8,270.8 49.7,271.5 50.6,271.2 51.5,271.4 52.4,271.5 53.3,271.4 54.2,271.5 55.1,271.1 56.0,271.4 56.9,271.2 57.8,271.5 58.7,271.5 59.6,270.9 60.5,270.9 61.4,271.0 62.3,271.5 63.2,271.2 64.1,271.3 65.0,271.1 65.9,271.2 66.8,271.1 67.7,271.1 68.6,271.3 69.5,271.3 70.4,271.5 71.3,271.3 72.2,271.5 73.1,271.5 74.0,271.6 74.9,271.3 75.8,271.0 76.7,271.5 77.6,271.6 78.5,271.5 79.4,271.3 80.3,271.4 81.2,271.0 82.1,271.5 83.0,271.3 83.9,271.1 84.8,270.9 85.7,271.5 86.6,271.6 87.5,270.9 88.4,271.4 89.3,271.2 90.2,271.0 91.1,271.1 92.0,271.4 92.9,271.5 93.8,270.9 94.7,271.3 95.6,270.9 96.5,271.4 97.4,271.1 98.3,271.5 99.2,271.6 100.1,271.2 101.0,271.6 101.9,271.1 102.8,270.9 103.7,271.3 104.6,270.9 105.5,271.0 106.4,271.2 107.3,271.3 108.2,271.0 109.1,270.9 110.0,271.5 110.9,271.1 111.8,271.6 112.7,271.5 113.6,271.1 114.5,271.2 115.4,271.3 116.3,271.3 117.2,271.3 118.1,271.3 119.0,271.3 119.9,271.6 120.8,271.2 121.7,271.2 122.6,271.4 123.5,271.0 124.4,271.1 125.3,271.6 126.2,271.3 127.1,271.3 128.0,270.9 128.9,271.2 129.8,271.3 130.7,270.9 131.6,271.3 132.5,271.3 133.4,270.9 134.3,271.3 135.2,271.2 136.1,271.4 137.0,271.1 137.9,271.4 138.8,271.4 139.7,270.9 140.6,270.9 141.5,271.4 142.4,271.6 143.3,271.1 144.2,271.2 145.1,271.3 146.0,271.1 146.9,271.2 147.8,271.1 148.7,271.2 149.6,271.3 150.5,271.1 151.4,271.2 152.3,271.5 153.2,270.9 154.1,271.3 155.0,271.4 155.9,271.1 156.8,271.1 157.7,271.5 158.6,271.1 159.5,271.0 160.4,271.2 161.3,271.4 162.2,271.0 163.1,271.1 164.0,271.1 164.9,271.5 165.8,271.2 166.7,271.5 167.6,271.0 168.5,271.1 169.4,271.4 170.3,271.6 171.2,271.2 172.1,271.1 173.0,271.0 173.9,271.3 174.8,271.0 175.7,272.0 176.6,272.8 177.5,273.0 178.4,275.4 179.3,280.3 180.2,281.7 181.1,282.6 182.0,282.3 182.9,281.8 183.8,281.5 184.7,281.6 185.6,280.9 186.5,280.7 187.4,280.5 188.3,280.2 189.2,279.8 190.1,279.7 191.0,278.8 191.9,278.2 192.8,277.9 193.7,276.7 194.6,276.2 195.5,275.5 196.4,275.6 197.3,275.3 198.2,274.5 199.1,274.8 200.0,274.7 200.9,274.4 201.8,274.1 202.7,273.8 203.6,273.7 204.5,273.5 205.4,273.3 206.3,273.7 206.8,273.5 207.5,275.6 208.2,273.4 209.0,273.0 209.9,273.6 210.8,273.4 211.7,273.5 212.6,273.4 213.5,273.4 214.4,273.1 215.3,272.6 216.2,273.1 217.1,272.6 218.0,272.7 218.7,275.3 219.4,272.6 219.8,272.7 220.7,272.6 221.6,273.0 222.5,272.7 223.4,272.5 224.3,272.4 225.2,272.8 226.1,272.5 227.0,272.7 227.9,272.3 228.8,272.2 229.7,272.4 230.6,272.6 231.5,272.1 232.4,272.5 233.3,272.6 234.2,272.5 235.1,272.5 236.0,271.8 236.9,272.3 237.8,272.4 238.7,271.8 239.3,272.0 240.0,273.5 240.7,272.0 241.4,272.1 242.3,272.0 243.2,272.0 244.1,272.2 245.0,271.6 245.9,271.6 246.8,271.7 247.7,271.6 248.6,271.6 249.5,272.3 250.4,272.1 251.3,271.6 252.2,271.8 253.1,271.7 254.0,271.7 254.9,271.7 255.8,271.9 256.7,271.8 257.6,271.6 258.5,271.5 259.4,271.6 260.3,271.4 261.2,271.7 262.1,271.8 263.0,271.6 263.9,271.3 264.8,271.4 265.7,271.5 266.6,271.7 267.5,271.8 268.4,271.4 269.3,271.7 270.2,271.6 271.1,271.4 272.0,271.4 272.9,271.4 273.8,271.6 274.7,271.4 275.6,271.5 276.5,271.4 277.4,271.2 278.3,271.5 278.6,271.5 279.5,274.2 280.4,271.6 281.0,271.7 281.9,271.7 282.8,272.1 283.7,272.1 284.6,271.7 285.5,272.1 286.4,272.0 287.3,271.6 288.2,271.7 289.1,271.5 290.0,272.0 290.9,271.9 291.8,272.1 292.7,272.0 293.6,271.9 294.5,272.0 295.4,271.8 296.3,271.5 297.2,271.8 298.1,271.4 299.0,271.5 299.9,272.0 300.8,271.4 301.7,271.5 302.6,271.5 303.5,272.1 304.4,271.5 305.3,271.4 306.2,272.0 307.1,271.5 308.0,272.0 308.9,271.9 309.8,272.0 310.7,272.1 311.6,271.8 312.5,272.0 313.4,271.4 314.3,272.0 315.2,271.8 316.1,271.9 317.0,271.5 317.9,272.0 318.8,272.1 319.7,271.4 320.6,271.6 321.5,271.8 322.4,272.0 323.3,271.7 324.2,272.2 325.1,272.7 326.0,273.0 326.9,273.1 327.8,272.8 328.7,272.8 329.6,272.8 330.5,272.8 331.4,272.8 332.0,272.8 332.8,276.2 333.6,272.8 334.1,273.2 335.0,272.8 335.9,273.1 336.8,272.5 337.7,272.8 338.6,272.8 339.5,272.6 340.4,272.4 341.3,272.3 342.2,272.3 343.1,272.4 344.0,271.7 344.9,271.6 345.8,272.1 346.7,272.2 347.6,271.9 348.5,271.8 349.4,272.0 350.3,271.6 351.2,271.7 352.1,271.6 353.0,271.9 353.9,271.7 354.8,271.7 355.7,272.0 356.6,272.2 357.5,271.7 358.4,272.0 359.3,271.8 360.2,272.1 361.1,271.9 362.0,271.7 362.9,271.6 363.8,271.5 364.7,271.8 365.6,271.8 366.5,271.6 367.4,271.8 368.3,271.7 369.2,272.1 370.1,271.6 371.0,272.2 371.9,271.8 372.8,271.9 373.7,271.8 374.6,272.1 375.5,272.1 376.4,271.9 377.3,271.8 378.2,272.0 379.1,272.1 380.0,271.8 380.9,272.0 381.8,272.2 382.7,271.8 383.6,271.6 384.5,271.6 385.4,272.0 386.3,272.0 387.2,272.2 388.1,272.1 389.0,271.6 389.9,271.6 390.8,271.7 391.7,271.6 392.6,272.0 393.5,272.1 394.4,272.1 395.3,271.6 396.2,272.1 397.1,271.7 398.0,271.8 398.9,272.0 399.8,271.5 400.7,271.5 401.6,272.1 402.5,271.7 403.4,271.7 404.3,271.9 405.2,272.0 406.1,271.5 407.0,271.7 407.9,271.8 408.8,271.8 409.7,271.6 410.6,271.9 411.5,272.2 412.4,271.7 413.3,271.9 414.2,271.5 415.1,271.6 416.0,271.9 416.9,271.5 417.8,272.1 418.7,272.1 419.6,271.5 420.5,272.1 421.4,271.7 422.3,272.0 423.2,272.0 424.1,271.7 425.0,271.9 425.9,271.9 426.8,272.0 427.7,271.6 428.6,272.0 429.5,272.2 430.4,271.9 431.3,271.8 432.2,271.5 433.1,271.8 434.0,271.7 434.9,272.0 435.8,271.9 436.7,271.8 437.6,271.6 438.5,271.9 439.4,271.9 440.3,271.6 441.2,272.1 442.1,271.9 443.0,271.5 443.9,272.1 444.8,271.5 445.7,271.7 446.6,272.0 447.5,271.9 448.4,271.8 449.3,271.9 450.2,271.8 451.1,271.6 452.0,271.5 452.9,271.5 453.8,271.9 454.7,272.0 455.6,271.8 456.5,272.0 457.4,271.7 458.3,271.6 459.2,271.7 460.1,272.1 461.0,271.4 461.9,271.8 462.8,271.6 463.7,272.0 464.6,271.7 465.5,271.7 466.4,271.7 467.3,271.8 467.8,271.7 470.0,275.9 472.2,271.7 472.7,271.5 473.6,271.5 474.5,272.0 475.4,272.0 476.3,271.6 477.2,271.6 478.1,271.8 479.0,272.0 479.9,272.1 480.8,272.0 481.7,271.9 482.6,271.6 483.5,271.8 484.4,272.0 485.3,273.1 486.2,273.8 487.1,273.6 488.0,273.6 488.9,274.0 489.8,273.4 490.7,274.0 491.6,274.1 492.5,274.2 493.4,273.7 494.3,273.9 495.2,273.9 496.1,273.9 497.0,274.2 497.9,274.0 498.8,273.7 499.7,274.1 500.6,273.9 501.5,274.0 502.4,274.1 503.3,273.5 504.2,274.1 505.1,274.0 506.0,273.9 506.9,273.9 507.8,273.9 508.7,273.7 509.6,273.9 510.5,273.6 511.4,273.9 512.3,274.1 513.2,273.9 514.1,274.0 514.7,273.9 515.5,275.5 516.3,273.9 516.8,273.7 517.7,273.7 518.6,272.9 519.5,271.9 520.4,271.8 521.3,271.7 522.2,271.6 523.1,271.9 524.0,272.2 524.9,271.8 525.8,272.2 526.7,272.0 527.6,271.6 528.5,272.2 529.4,272.0 530.3,272.2 531.2,272.1 532.1,272.1 533.0,271.8 533.9,272.1 534.8,272.2 535.7,272.2 536.6,271.9 537.5,272.1 538.4,271.9 539.3,271.6 540.2,271.6 541.1,271.6 542.0,271.7 542.9,271.7 543.8,271.9 544.7,272.1 545.6,272.0 546.5,271.9 547.4,272.1 548.3,271.8 549.2,271.9 550.1,272.2 551.0,271.9 551.9,271.7 552.8,272.3 553.7,272.1 554.6,271.9 555.5,271.9 556.4,272.0 557.3,272.1 558.2,271.8 559.1,271.6 560.0,271.8 560.9,272.2 561.8,271.7 562.7,272.0 563.6,271.8 564.5,271.8 565.4,271.8 566.3,271.9 567.2,271.8 568.1,271.7 569.0,271.7 569.9,271.8 570.8,272.0 571.7,271.7 572.6,271.7 573.5,272.0 574.4,272.0 575.3,272.2 576.2,271.7 577.1,272.0 578.0,272.0 578.9,271.7 579.8,272.4 580.7,271.9 581.6,271.8 582.5,272.0 583.4,271.8 584.3,272.2 585.2,272.1 586.1,272.6 587.0,273.1 587.9,273.7 588.8,273.3 589.7,273.7 590.6,273.5 591.5,273.9 592.4,273.4 593.3,273.4 594.2,273.4 595.1,273.8 596.0,273.7 596.7,273.5 597.5,275.3 598.3,273.5 598.7,273.8 599.6,274.0 600.5,273.7 601.4,273.3 602.3,273.3 603.2,273.1 604.1,272.0 605.0,271.3 605.9,271.3 606.8,271.8 607.7,272.0 608.6,271.5 609.5,271.9 609.7,271.4 610.5,275.4 611.3,271.1 612.2,271.3 613.1,271.3 614.0,270.6 614.9,270.8 615.8,271.1 616.7,271.3 617.6,270.7 618.5,270.8 619.4,271.2 620.3,270.7 621.2,270.9 622.1,270.8 623.0,271.1 623.9,271.3 624.8,270.7 625.7,271.1 626.6,271.1 627.5,271.2 628.4,271.0 629.3,271.3 630.2,270.8 631.1,270.9 632.0,270.7 632.9,271.2 633.8,270.9 634.7,270.8 635.6,270.7 636.5,271.1 637.4,271.0 638.3,271.1 639.2,270.9 640.1,270.9 641.0,270.7 641.9,271.1 642.8,270.6 643.7,270.9 644.6,271.1 645.5,271.1 646.4,270.6 647.3,270.7 648.2,271.2 649.1,271.0 650.0,271.2 650.9,271.2 651.8,270.9 652.7,271.2 653.6,271.1 654.5,270.8 655.4,270.8 656.3,270.6 657.2,270.8 658.1,271.3 659.0,270.6 659.9,271.0 660.8,270.6 661.7,270.6 662.6,271.0 663.5,270.7 664.4,270.6 665.3,270.6 666.2,271.0 667.1,271.0 668.0,270.5 668.9,270.7 669.8,271.3 670.7,270.7 671.6,270.9 672.5,270.8 673.4,271.1 674.3,271.0 675.2,271.1 676.1,270.9 677.0,270.7 677.9,270.6 678.8,270.6 679.7,271.1 680.6,270.6 681.5,270.5 682.4,271.2 683.3,270.7 684.2,271.2 685.1,270.6 686.0,270.9 686.9,270.7 687.8,271.1 687.0,287.6"/>
<path d="M26.400000000000002,21.9 V288.3 H686" fill="none" stroke="#000" stroke-width="1.8" stroke-linejoin="round"/>
<text transform="translate(14.2,292.2) scale(1.05,1)" text-anchor="end">0</text>
<text transform="translate(14.2,259.0) scale(1.05,1)" text-anchor="end">5</text>
<text transform="translate(14.2,225.8) scale(1.05,1)" text-anchor="end">10</text>
<text transform="translate(14.2,192.6) scale(1.05,1)" text-anchor="end">15</text>
<text transform="translate(14.2,159.3) scale(1.05,1)" text-anchor="end">20</text>
<text transform="translate(14.2,126.1) scale(1.05,1)" text-anchor="end">25</text>
<text transform="translate(14.2,92.9) scale(1.05,1)" text-anchor="end">30</text>
<text transform="translate(14.2,59.7) scale(1.05,1)" text-anchor="end">35</text>
<text transform="translate(14.2,26.5) scale(1.05,1)" text-anchor="end">40</text>
<text transform="translate(30.8,297.0) scale(1.05,1.025) rotate(-90)" text-anchor="end">Jan-19</text>
<text transform="translate(43.0,297.0) scale(1.05,1.025) rotate(-90)" text-anchor="end">Feb-19</text>
<text transform="translate(54.1,297.0) scale(1.05,1.025) rotate(-90)" text-anchor="end">Mar-19</text>
<text transform="translate(66.3,297.0) scale(1.05,1.025) rotate(-90)" text-anchor="end">Apr-19</text>
<text transform="translate(78.1,297.0) scale(1.05,1.025) rotate(-90)" text-anchor="end">May-19</text>
<text transform="translate(90.4,297.0) scale(1.05,1.025) rotate(-90)" text-anchor="end">Jun-19</text>
<text transform="translate(102.2,297.0) scale(1.05,1.025) rotate(-90)" text-anchor="end">Jul-19</text>
<text transform="translate(114.4,297.0) scale(1.05,1.025) rotate(-90)" text-anchor="end">Aug-19</text>
<text transform="translate(126.7,297.0) scale(1.05,1.025) rotate(-90)" text-anchor="end">Sep-19</text>
<text transform="translate(138.5,297.0) scale(1.05,1.025) rotate(-90)" text-anchor="end">Oct-19</text>
<text transform="translate(150.7,297.0) scale(1.05,1.025) rotate(-90)" text-anchor="end">Nov-19</text>
<text transform="translate(162.6,297.0) scale(1.05,1.025) rotate(-90)" text-anchor="end">Dec-19</text>
<text transform="translate(174.8,297.0) scale(1.05,1.025) rotate(-90)" text-anchor="end">Jan-20</text>
<text transform="translate(187.0,297.0) scale(1.05,1.025) rotate(-90)" text-anchor="end">Feb-20</text>
<text transform="translate(198.5,297.0) scale(1.05,1.025) rotate(-90)" text-anchor="end">Mar-20</text>
<text transform="translate(210.7,297.0) scale(1.05,1.025) rotate(-90)" text-anchor="end">Apr-20</text>
<text transform="translate(222.6,297.0) scale(1.05,1.025) rotate(-90)" text-anchor="end">May-20</text>
<text transform="translate(234.8,297.0) scale(1.05,1.025) rotate(-90)" text-anchor="end">Jun-20</text>
<text transform="translate(246.6,297.0) scale(1.05,1.025) rotate(-90)" text-anchor="end">Jul-20</text>
<text transform="translate(258.8,297.0) scale(1.05,1.025) rotate(-90)" text-anchor="end">Aug-20</text>
<text transform="translate(271.1,297.0) scale(1.05,1.025) rotate(-90)" text-anchor="end">Sep-20</text>
<text transform="translate(282.9,297.0) scale(1.05,1.025) rotate(-90)" text-anchor="end">Oct-20</text>
<text transform="translate(295.1,297.0) scale(1.05,1.025) rotate(-90)" text-anchor="end">Nov-20</text>
<text transform="translate(307.0,297.0) scale(1.05,1.025) rotate(-90)" text-anchor="end">Dec-20</text>
<text transform="translate(319.2,297.0) scale(1.05,1.025) rotate(-90)" text-anchor="end">Jan-21</text>
<text transform="translate(331.4,297.0) scale(1.05,1.025) rotate(-90)" text-anchor="end">Feb-21</text>
<text transform="translate(342.5,297.0) scale(1.05,1.025) rotate(-90)" text-anchor="end">Mar-21</text>
<text transform="translate(354.7,297.0) scale(1.05,1.025) rotate(-90)" text-anchor="end">Apr-21</text>
<text transform="translate(366.6,297.0) scale(1.05,1.025) rotate(-90)" text-anchor="end">May-21</text>
<text transform="translate(378.8,297.0) scale(1.05,1.025) rotate(-90)" text-anchor="end">Jun-21</text>
<text transform="translate(390.6,297.0) scale(1.05,1.025) rotate(-90)" text-anchor="end">Jul-21</text>
<text transform="translate(402.9,297.0) scale(1.05,1.025) rotate(-90)" text-anchor="end">Aug-21</text>
<text transform="translate(415.1,297.0) scale(1.05,1.025) rotate(-90)" text-anchor="end">Sep-21</text>
<text transform="translate(426.9,297.0) scale(1.05,1.025) rotate(-90)" text-anchor="end">Oct-21</text>
<text transform="translate(439.2,297.0) scale(1.05,1.025) rotate(-90)" text-anchor="end">Nov-21</text>
<text transform="translate(451.0,297.0) scale(1.05,1.025) rotate(-90)" text-anchor="end">Dec-21</text>
<text transform="translate(463.2,297.0) scale(1.05,1.025) rotate(-90)" text-anchor="end">Jan-22</text>
<text transform="translate(475.5,297.0) scale(1.05,1.025) rotate(-90)" text-anchor="end">Feb-22</text>
<text transform="translate(486.5,297.0) scale(1.05,1.025) rotate(-90)" text-anchor="end">Mar-22</text>
<text transform="translate(498.7,297.0) scale(1.05,1.025) rotate(-90)" text-anchor="end">Apr-22</text>
<text transform="translate(510.6,297.0) scale(1.05,1.025) rotate(-90)" text-anchor="end">May-22</text>
<text transform="translate(522.8,297.0) scale(1.05,1.025) rotate(-90)" text-anchor="end">Jun-22</text>
<text transform="translate(534.6,297.0) scale(1.05,1.025) rotate(-90)" text-anchor="end">Jul-22</text>
<text transform="translate(546.9,297.0) scale(1.05,1.025) rotate(-90)" text-anchor="end">Aug-22</text>
<text transform="translate(559.1,297.0) scale(1.05,1.025) rotate(-90)" text-anchor="end">Sep-22</text>
<text transform="translate(570.9,297.0) scale(1.05,1.025) rotate(-90)" text-anchor="end">Oct-22</text>
<text transform="translate(583.2,297.0) scale(1.05,1.025) rotate(-90)" text-anchor="end">Nov-22</text>
<text transform="translate(595.0,297.0) scale(1.05,1.025) rotate(-90)" text-anchor="end">Dec-22</text>
<text transform="translate(607.2,297.0) scale(1.05,1.025) rotate(-90)" text-anchor="end">Jan-23</text>
<text transform="translate(619.5,297.0) scale(1.05,1.025) rotate(-90)" text-anchor="end">Feb-23</text>
<text transform="translate(630.5,297.0) scale(1.05,1.025) rotate(-90)" text-anchor="end">Mar-23</text>
<text transform="translate(642.7,297.0) scale(1.05,1.025) rotate(-90)" text-anchor="end">Apr-23</text>
<text transform="translate(654.6,297.0) scale(1.05,1.025) rotate(-90)" text-anchor="end">May-23</text>
<text transform="translate(666.8,297.0) scale(1.05,1.025) rotate(-90)" text-anchor="end">Jun-23</text>
<text transform="translate(678.7,297.0) scale(1.05,1.025) rotate(-90)" text-anchor="end">Jul-23</text>
<rect x="244.4" y="2.2" width="7.4" height="7.4" fill="#4472C4"/><text transform="translate(259.3,10.5) scale(1.05,1)">Transport</text>
<rect x="331.4" y="2.2" width="7.4" height="7.4" fill="#ED7D31"/><text transform="translate(345.8,10.5) scale(1.05,1)">Industry</text>
<rect x="410.7" y="2.2" width="7.4" height="7.4" fill="#A5A5A5"/><text transform="translate(424.7,10.5) scale(1.05,1)">Power</text>
<text x="250.6" y="381.5" font-size="19.0" font-weight="bold">a)</text>
<text x="278.4" y="381.5" font-size="19.0" font-weight="bold">CO<tspan font-size="12.2">2</tspan><tspan dx="1.3"> Emissions in China</tspan></text>
<polygon fill="#5B9BD5" points="28.9,691.8 28.9,494.3 29.6,494.3 31.2,512.5 32.8,481.2 34.0,480.3 34.8,489.4 35.6,481.2 36.8,487.8 38.1,474.6 39.4,492.7 40.4,465.5 41.4,494.3 42.6,509.2 43.9,486.9 44.7,489.4 45.9,500.1 47.2,492.7 48.5,482.0 49.6,491.0 51.0,494.3 52.3,489.4 53.4,482.8 54.6,491.0 55.9,500.9 57.5,516.6 58.7,499.3 60.0,503.4 61.2,499.3 62.5,512.5 64.1,500.9 65.3,505.9 66.6,505.9 67.8,512.5 69.1,519.0 70.2,515.7 71.9,518.2 73.2,509.2 74.3,513.3 75.7,505.0 76.8,496.0 78.1,513.3 79.3,506.7 80.6,514.1 82.2,507.5 83.9,508.3 85.0,496.0 86.2,512.5 87.5,485.3 88.3,484.5 89.5,496.8 90.5,487.8 92.0,499.3 93.6,508.3 94.9,491.0 95.7,487.8 96.6,493.5 98.2,482.8 99.5,474.6 100.7,482.8 101.5,492.7 102.3,482.0 103.5,482.0 104.5,470.5 105.6,472.9 106.4,470.5 107.4,465.5 108.4,477.9 109.4,486.1 110.6,477.9 111.9,472.9 113.0,475.4 114.4,469.6 115.5,472.9 116.3,470.5 117.5,468.8 118.8,471.3 120.4,471.3 121.4,482.8 122.6,491.9 123.7,486.9 125.4,485.3 126.5,477.0 127.9,487.8 129.0,479.5 129.9,482.8 131.3,491.0 132.4,491.0 133.6,495.2 134.9,496.8 136.2,498.5 137.2,472.1 138.5,489.4 139.8,506.7 141.5,490.2 142.6,507.5 144.3,513.3 146.1,505.0 147.7,504.2 148.9,499.3 149.7,503.4 151.0,496.0 151.8,487.8 152.7,497.6 153.7,476.2 155.0,491.0 156.0,497.6 156.8,506.7 157.6,499.3 158.8,507.5 160.1,503.4 161.6,500.1 162.9,502.6 163.9,509.2 165.0,490.2 166.2,489.4 167.2,496.8 168.3,484.5 169.5,499.3 170.8,517.4 171.9,512.5 173.2,530.6 174.1,510.0 175.2,509.2 176.5,512.5 177.7,513.3 178.8,515.7 180.3,480.3 181.3,492.7 182.6,501.7 183.5,505.0 184.4,488.6 185.4,502.6 186.4,519.0 187.6,502.6 188.9,503.4 190.4,486.1 191.4,516.6 193.0,486.9 194.2,517.4 195.8,498.5 197.1,516.6 198.3,505.9 199.4,513.3 200.7,500.1 202.4,504.2 203.2,517.4 204.4,527.3 205.7,528.1 206.8,537.2 208.2,543.7 209.5,549.5 210.6,543.7 211.6,550.3 213.1,552.8 214.1,543.7 215.6,545.4 216.9,543.7 218.4,547.9 219.7,547.0 221.3,554.4 222.5,546.2 223.5,550.3 224.6,545.4 225.9,540.4 227.1,537.2 228.4,533.9 229.6,524.0 230.4,532.2 231.5,515.7 232.5,522.3 233.3,509.2 234.2,500.9 235.4,509.2 236.6,512.5 238.2,524.0 239.6,510.8 240.4,504.2 241.5,501.7 242.8,503.4 244.5,504.2 245.3,492.7 246.5,493.5 247.3,491.0 248.4,486.1 249.4,495.2 250.6,491.0 251.9,488.6 252.7,486.1 253.5,489.4 254.7,481.2 255.5,479.5 256.7,483.6 257.7,492.7 258.8,502.6 260.0,494.3 261.0,483.6 262.3,473.8 263.4,481.2 264.2,486.1 265.1,482.8 266.2,487.8 267.5,489.4 268.9,500.9 269.8,486.1 270.7,478.7 271.5,505.9 272.5,499.3 273.5,491.0 274.5,497.6 275.8,501.7 276.9,509.2 278.1,515.7 279.4,519.0 280.4,523.2 281.4,515.7 282.4,524.0 283.5,509.2 284.8,514.1 286.0,517.4 287.1,510.8 288.5,505.9 289.6,507.5 290.6,509.2 291.7,506.7 292.6,505.9 293.7,517.4 294.5,525.6 295.5,514.1 296.4,517.4 297.5,509.2 298.8,513.3 300.0,517.4 301.1,514.9 302.1,511.6 303.3,529.7 304.4,512.5 305.4,505.0 306.6,500.9 307.7,500.1 308.7,505.9 309.5,510.8 310.7,496.0 311.5,491.0 312.7,504.2 313.6,505.0 314.5,517.4 315.3,525.6 316.4,512.5 317.3,520.7 318.6,514.1 319.7,500.9 320.4,489.4 321.4,504.2 322.5,515.7 323.5,502.6 324.4,499.3 325.2,517.4 326.3,502.6 327.2,515.7 328.3,501.7 329.3,504.2 330.4,515.7 331.4,505.9 332.4,492.7 333.4,489.4 334.6,479.5 335.7,489.4 336.7,494.3 337.5,491.0 338.3,522.3 339.2,510.8 339.9,509.2 341.1,507.5 342.2,510.8 343.2,520.7 344.4,529.7 345.4,514.1 346.5,505.9 347.3,515.7 348.2,505.0 349.2,522.3 350.1,511.6 351.1,514.1 352.3,528.9 353.4,512.5 354.8,531.4 356.1,514.9 357.2,520.7 358.4,511.6 359.2,504.2 360.2,515.7 361.3,519.0 362.2,515.7 363.3,528.1 364.6,510.0 365.6,518.2 366.6,510.8 367.6,516.6 368.8,514.1 369.9,514.9 371.2,518.2 372.5,507.5 373.7,506.7 375.0,499.3 376.2,516.6 377.3,504.2 378.3,494.3 379.5,489.4 380.8,485.3 381.9,483.6 383.1,486.1 384.1,477.0 385.4,500.9 386.4,489.4 387.4,476.2 388.5,464.4 389.7,484.5 390.7,485.3 391.6,477.0 392.6,479.5 393.6,487.8 394.6,486.9 395.6,475.4 396.4,479.5 397.2,489.4 398.4,476.2 399.5,472.9 400.5,469.6 401.4,477.9 402.2,484.5 403.3,477.0 404.2,479.5 405.1,473.8 406.1,461.4 407.1,483.6 408.3,474.6 409.1,479.5 409.9,475.4 411.4,464.7 412.7,476.2 413.7,487.8 414.9,496.0 415.7,499.3 416.7,490.2 417.8,489.4 419.0,490.2 419.8,479.5 420.6,494.3 421.8,502.6 422.8,507.5 423.9,510.0 424.7,504.2 425.6,490.2 426.6,494.3 427.5,499.3 428.5,502.6 429.7,506.7 430.5,503.4 431.3,509.2 432.5,525.6 433.5,505.9 434.5,507.5 435.4,524.0 436.8,514.1 437.7,507.5 438.7,500.1 439.7,509.2 440.7,520.7 442.0,512.5 443.0,507.5 444.0,505.9 444.9,507.5 446.3,506.7 447.4,515.7 448.6,502.6 449.6,512.5 450.7,513.3 451.9,498.5 452.8,512.5 454.0,510.8 455.1,519.0 456.1,502.6 457.3,496.0 458.4,528.1 459.8,519.0 460.6,505.9 461.4,517.4 462.6,505.0 463.5,499.3 464.4,490.2 465.5,503.4 466.3,501.7 467.5,489.4 468.5,511.6 469.5,475.4 470.5,489.4 471.3,491.0 472.4,482.0 473.4,489.4 474.2,512.5 475.4,489.4 476.2,478.7 477.2,502.6 478.2,496.8 479.2,482.8 480.2,494.3 481.2,510.8 482.3,492.7 483.3,477.9 484.5,492.7 485.6,505.0 486.6,510.0 487.8,499.3 488.9,501.7 489.9,509.2 491.0,516.6 492.2,524.0 493.2,522.3 494.3,510.8 495.3,511.6 496.3,521.5 497.3,501.7 498.5,503.4 499.6,517.4 500.6,505.0 501.7,502.6 502.6,516.6 503.6,504.2 504.5,500.9 505.5,505.9 506.5,515.7 507.5,500.9 508.5,505.9 509.5,525.6 510.5,494.3 511.6,495.2 512.6,515.7 513.6,496.0 514.6,499.3 515.4,494.3 516.4,487.8 517.4,499.3 518.4,500.9 519.4,497.6 520.4,545.4 521.3,484.5 522.3,487.8 523.3,513.3 524.3,487.8 525.3,491.0 526.3,496.8 527.3,467.2 528.4,514.9 529.6,461.4 530.6,472.9 531.6,486.1 532.5,479.5 533.5,482.8 534.5,527.3 535.5,472.1 536.5,474.6 537.5,492.7 538.5,470.5 539.5,486.1 540.4,471.3 541.4,458.1 542.4,468.8 543.4,475.4 544.4,466.3 545.4,496.0 546.4,466.3 547.4,462.2 548.3,460.6 549.3,461.4 550.4,485.3 551.3,474.6 552.4,473.8 553.2,492.7 554.4,469.6 555.5,467.2 556.5,494.3 557.5,457.3 558.5,459.8 559.5,504.2 560.3,462.2 561.5,482.8 562.5,482.0 563.4,494.3 564.4,504.2 565.4,475.4 566.4,487.8 567.4,522.3 568.4,502.6 569.4,507.5 570.4,521.5 571.3,488.6 572.3,499.3 573.3,519.0 574.3,497.6 575.5,522.3 576.5,491.9 577.4,496.0 578.4,520.7 579.4,502.6 580.4,510.8 581.4,500.9 582.4,510.8 583.4,525.6 584.2,532.2 585.0,505.9 586.2,517.4 587.5,475.4 588.5,477.9 589.5,514.1 590.4,477.9 591.4,560.2 592.4,510.8 593.4,501.7 594.4,503.4 595.4,509.2 596.4,494.3 597.4,512.5 598.4,500.9 599.3,492.7 600.3,509.2 601.5,468.8 602.6,479.5 603.6,507.5 604.6,494.3 605.4,524.0 606.4,559.4 607.6,505.9 608.6,517.4 609.5,496.8 610.5,507.5 611.5,532.2 612.5,501.7 613.5,507.5 614.5,497.6 615.5,484.5 616.5,499.3 617.5,512.5 618.4,455.6 619.4,489.4 620.4,516.6 621.4,498.5 622.4,527.3 623.4,510.8 624.4,506.7 625.4,540.4 626.3,514.1 627.3,498.5 628.3,528.9 629.3,501.7 630.3,507.5 631.3,532.2 632.3,493.5 633.3,517.4 634.2,492.7 635.2,517.4 636.4,516.6 637.5,505.0 638.5,522.3 639.7,503.4 640.5,505.9 641.5,519.0 642.5,533.9 643.5,500.1 644.5,538.8 645.4,505.9 646.4,517.4 647.4,532.2 648.4,517.4 649.7,505.9 650.7,517.4 651.7,499.3 652.7,502.6 653.7,515.7 654.7,505.9 655.7,517.4 656.7,500.9 657.7,502.6 658.6,515.7 659.5,489.4 660.6,505.9 661.6,520.7 662.6,495.2 663.6,505.9 664.4,549.5 665.4,493.5 666.4,505.9 667.2,491.0 668.4,489.4 669.4,517.4 670.3,491.0 671.3,489.4 672.3,519.0 673.3,487.8 674.5,484.5 675.4,499.3 676.4,472.9 677.4,469.6 678.4,504.2 679.4,477.0 680.4,505.9 681.4,482.8 682.4,465.5 683.3,482.8 684.3,467.2 685.0,468.0 687.0,472.9 687.0,472.9 687.0,691.8"/>
<polygon fill="#A5A5A5" points="28.9,691.8 28.9,569.1 29.9,569.1 30.9,570.8 31.9,565.6 32.9,569.4 33.9,571.4 34.9,571.6 35.9,571.1 36.9,572.6 37.9,572.2 38.9,569.9 39.9,567.3 40.9,569.8 41.9,572.9 42.9,567.3 43.9,569.8 44.9,565.2 45.9,562.7 46.9,571.0 47.9,567.3 48.9,567.3 49.9,566.7 50.9,570.8 51.9,572.7 52.9,570.4 54.9,564.0 55.9,566.9 56.9,566.4 57.9,567.8 58.9,570.6 59.9,572.1 60.9,564.7 61.9,569.4 62.9,567.6 63.9,570.8 64.9,569.6 65.9,575.9 66.9,567.7 67.9,569.2 68.9,572.5 69.9,570.6 70.9,572.0 71.9,575.3 72.9,560.9 73.9,568.4 74.9,566.1 75.9,573.3 76.9,568.4 77.9,564.6 78.9,559.3 79.9,567.2 80.9,564.1 81.9,570.9 82.9,567.9 83.9,564.8 84.9,571.8 85.9,566.9 86.9,566.8 87.9,576.0 88.9,572.8 89.9,568.7 90.9,573.5 91.9,571.3 92.9,573.0 93.9,566.8 94.9,565.2 95.9,570.7 96.9,570.0 97.9,568.5 98.9,572.1 99.9,572.7 100.9,571.1 101.9,579.1 102.9,572.3 103.9,571.2 104.9,570.9 105.9,569.5 106.9,568.5 107.9,577.8 108.9,572.3 109.9,566.9 110.9,571.4 111.9,565.0 112.9,570.6 113.9,569.6 114.9,570.2 115.9,566.2 116.9,570.1 117.9,570.9 118.9,568.1 119.9,563.1 120.9,567.6 121.9,570.6 122.9,569.6 123.9,574.8 124.9,565.8 125.9,567.1 126.9,575.5 127.9,568.4 128.9,562.7 129.9,573.5 130.9,571.6 131.9,571.3 132.9,575.0 133.9,574.6 134.9,575.2 135.9,571.8 136.9,568.6 137.9,577.3 138.9,572.6 140.3,557.4 141.9,575.1 142.9,567.7 143.9,574.2 144.9,571.4 145.9,572.1 146.9,572.5 147.9,575.2 148.9,567.1 149.9,569.2 150.9,563.2 151.9,570.8 152.9,569.3 153.9,564.6 154.9,571.8 155.9,571.2 156.9,569.3 157.9,563.1 158.9,565.5 159.9,566.9 160.9,567.4 161.9,571.3 162.9,572.0 163.9,569.9 164.9,568.6 165.9,565.6 166.9,569.5 167.9,568.7 168.9,574.7 169.9,566.7 170.9,568.0 171.9,570.5 172.6,582.2 173.9,570.4 174.9,566.5 175.9,575.3 176.9,568.0 177.9,568.2 178.9,564.4 179.9,569.0 180.9,568.0 181.9,566.0 182.9,568.1 183.9,561.3 184.9,565.7 185.9,566.8 186.9,566.7 187.9,569.3 188.9,565.4 189.9,571.0 190.9,565.7 191.9,566.2 192.9,567.8 193.9,566.4 194.9,569.7 195.9,566.9 196.9,567.3 197.9,566.0 198.9,566.2 199.9,566.4 201.1,559.9 201.9,566.1 202.9,576.2 203.9,578.7 204.9,585.4 205.9,587.3 206.9,594.5 207.9,595.8 208.9,591.5 209.9,602.2 210.9,593.5 211.9,600.9 212.9,594.7 213.9,605.3 214.9,601.6 215.9,594.4 216.9,595.3 217.9,602.0 218.9,594.6 219.9,599.9 220.9,597.3 221.9,599.0 222.9,602.5 223.9,591.0 224.9,598.0 225.9,590.6 226.9,592.5 227.9,594.0 228.9,586.1 229.9,586.8 230.9,582.2 231.9,578.9 232.9,586.5 233.9,581.5 234.9,583.7 235.9,579.6 236.9,585.4 237.9,574.6 238.9,580.7 239.9,577.2 240.9,583.0 241.9,575.9 242.9,578.8 243.9,591.0 244.9,579.3 245.9,581.3 246.9,583.4 247.9,578.5 248.9,579.7 249.9,578.6 250.9,579.8 251.9,580.4 252.9,574.3 253.9,583.5 254.9,583.0 255.9,573.5 256.9,579.7 257.9,579.6 258.9,574.5 259.9,579.9 260.9,572.9 261.9,569.0 262.9,568.1 263.9,577.2 264.9,575.9 265.9,577.4 266.9,582.4 267.9,571.6 268.9,578.0 269.9,570.6 270.9,574.1 271.9,572.6 272.9,573.5 273.9,572.4 274.9,575.9 275.9,573.6 276.9,580.6 277.9,582.9 278.9,587.4 279.9,580.0 280.9,579.1 281.9,578.6 282.9,582.2 283.9,574.2 284.9,582.8 285.9,575.9 286.9,578.5 287.9,576.0 288.9,573.6 289.9,575.1 290.9,572.2 291.9,576.5 292.9,578.1 293.9,578.2 294.9,578.3 295.9,574.6 296.9,573.6 297.9,576.1 298.9,579.8 299.9,585.6 300.9,575.4 301.9,576.6 302.9,575.6 303.9,580.5 304.9,571.9 305.9,575.0 306.9,574.5 307.9,573.6 308.9,577.8 309.9,573.8 310.9,573.9 311.9,570.0 312.9,578.3 313.5,566.0 315.2,587.0 315.9,574.8 316.9,578.8 317.9,575.8 318.9,582.4 319.9,576.3 320.9,577.0 321.9,582.0 322.9,576.8 323.9,576.5 324.9,582.2 325.9,581.9 326.9,580.3 327.9,579.4 328.9,579.1 329.9,579.3 330.9,575.6 331.9,578.9 332.9,575.7 333.9,577.5 334.9,582.1 335.9,577.3 336.9,578.7 337.9,574.2 338.9,578.0 339.9,577.6 340.9,576.3 341.9,574.7 342.9,576.4 343.9,576.8 344.9,574.4 345.9,574.3 346.9,572.7 347.9,576.6 348.9,572.5 349.9,572.3 350.9,574.5 351.9,573.7 352.9,570.8 353.9,577.0 354.9,574.6 355.9,571.4 356.9,574.7 357.9,570.2 358.9,569.9 359.9,573.1 360.9,571.7 361.9,577.6 362.9,573.3 363.9,570.8 364.9,568.0 365.9,576.1 366.9,566.1 367.9,578.0 368.9,577.6 369.9,569.5 370.9,574.3 371.9,570.6 372.9,576.6 373.9,569.7 374.9,572.0 375.9,578.0 376.9,576.1 377.9,574.9 378.9,571.2 379.9,570.1 380.9,572.9 381.9,571.3 382.9,575.7 383.9,566.1 384.9,567.5 385.9,573.4 386.9,569.9 387.9,564.1 388.9,572.0 389.9,573.3 390.9,567.7 391.9,574.9 392.9,574.8 393.9,569.7 394.9,573.5 395.9,572.9 396.9,575.6 397.9,577.2 398.9,576.7 399.9,573.9 400.9,570.7 401.9,577.0 402.9,573.7 403.9,576.2 404.9,569.1 405.9,573.4 406.9,575.3 407.9,573.2 408.9,572.0 409.9,573.2 410.9,571.4 411.9,571.3 412.9,578.6 413.9,574.1 414.9,573.0 415.9,577.0 416.9,570.5 417.9,570.9 418.9,572.5 419.9,571.8 420.9,575.2 421.9,576.9 422.9,571.3 423.9,571.7 424.9,576.6 425.9,573.7 426.9,573.8 427.9,570.9 428.9,570.8 429.9,573.6 430.9,574.3 431.9,572.8 432.9,574.6 433.9,571.2 434.9,573.9 435.9,574.4 436.9,568.0 437.9,578.3 438.9,572.4 439.9,574.8 440.9,571.6 441.9,573.4 442.9,573.7 443.9,573.5 444.9,574.5 445.9,575.7 446.9,573.9 447.9,566.0 448.9,573.1 449.9,575.6 450.9,567.0 451.9,571.6 452.9,569.6 453.9,566.9 454.9,566.8 455.9,566.9 456.9,572.2 457.9,568.6 458.9,575.7 459.9,573.6 460.9,578.2 461.9,571.2 462.9,576.4 463.9,576.3 464.9,576.8 465.9,576.4 466.9,579.6 467.9,580.3 468.9,576.5 469.9,578.0 470.9,571.5 471.9,579.1 472.9,579.3 473.9,578.6 474.9,573.7 475.9,568.9 476.9,568.6 477.9,562.5 478.9,564.1 479.9,567.3 480.9,558.3 481.9,565.3 482.9,556.5 483.9,565.9 484.9,557.2 485.9,566.6 486.9,565.6 487.9,565.6 488.9,573.5 489.9,568.0 490.9,564.9 491.9,569.9 492.9,568.8 493.9,571.3 494.9,572.0 495.9,570.9 496.9,572.8 497.9,568.3 498.9,570.9 499.9,571.0 500.9,570.8 501.6,568.2 502.3,575.7 503.0,568.3 503.7,569.3 504.4,566.7 505.0,575.2 505.7,566.4 506.4,567.0 507.1,568.0 507.8,584.5 508.5,567.0 509.2,566.5 509.9,567.7 510.6,577.1 511.3,566.4 511.9,566.1 512.6,564.5 513.3,572.9 514.0,566.2 514.7,564.8 515.4,565.3 516.1,577.7 516.8,568.0 517.5,566.1 518.2,571.1 518.9,583.4 519.5,570.9 519.8,572.2 520.5,607.8 521.2,572.2 521.6,580.2 522.3,570.0 523.0,567.7 523.7,568.0 524.4,584.1 525.1,569.5 525.8,566.7 526.5,565.4 527.1,582.6 527.8,566.3 528.5,569.1 529.2,567.1 529.9,576.3 530.6,570.9 531.3,572.1 532.0,574.2 532.7,586.3 533.4,575.2 533.5,576.3 534.2,616.9 534.9,576.3 535.4,591.3 536.1,576.4 536.8,574.7 537.5,572.9 538.2,588.7 538.9,571.8 539.6,573.5 540.3,570.8 541.0,581.5 541.6,571.8 542.3,570.2 543.0,571.4 543.7,578.5 544.4,570.7 545.1,570.4 545.8,571.2 546.5,582.2 547.2,569.6 547.9,568.3 548.5,568.4 549.2,577.9 549.9,567.4 550.6,568.3 551.3,566.6 552.0,582.3 552.7,565.6 553.4,566.3 554.1,564.3 554.8,571.8 555.5,562.1 556.1,559.1 556.8,559.5 557.5,570.3 558.2,559.4 558.6,561.0 559.3,594.0 560.0,561.0 560.3,575.8 561.0,560.5 561.7,560.0 562.4,562.7 563.0,573.0 563.7,565.4 564.4,565.4 565.1,565.9 565.8,573.3 566.5,565.2 567.2,565.7 567.9,566.2 568.6,578.8 569.3,566.2 570.0,563.5 570.6,565.2 571.3,573.2 572.0,564.5 572.7,563.8 573.4,563.4 574.1,574.4 574.8,564.5 575.5,567.2 576.2,567.4 576.9,579.5 577.6,567.4 578.2,567.9 578.9,569.1 579.6,575.5 580.3,569.0 581.0,569.3 581.7,570.6 582.4,589.2 583.1,573.0 583.8,571.6 584.5,568.7 585.1,581.7 585.8,567.1 586.5,563.3 587.2,562.6 587.9,575.3 588.6,561.4 589.3,561.8 590.0,568.6 590.7,573.0 591.4,614.0 592.1,573.0 592.7,573.3 593.4,585.1 594.1,573.7 594.8,572.7 595.5,572.5 596.2,590.0 596.9,570.7 597.6,571.4 598.3,573.6 599.0,588.5 599.6,571.0 600.3,566.1 601.0,566.8 601.7,578.3 602.4,569.9 602.8,574.4 603.5,624.0 604.2,574.4 604.5,594.5 605.2,577.0 605.9,578.5 606.6,617.0 607.3,578.5 607.9,574.2 608.6,576.7 609.3,576.1 610.0,584.0 610.7,571.1 610.9,572.9 611.6,601.7 612.3,572.9 612.8,584.6 613.5,568.6 614.2,567.5 614.8,566.9 615.5,582.0 616.2,562.4 616.9,559.4 617.6,556.3 618.3,562.4 619.0,555.5 619.7,560.6 620.4,564.3 621.1,573.6 621.7,567.6 622.4,568.1 623.1,567.8 623.8,585.1 624.5,567.5 624.6,568.8 625.3,598.6 626.0,568.8 626.6,578.0 627.3,567.6 628.0,567.0 628.7,565.1 629.3,577.5 630.0,568.4 630.7,565.5 631.4,568.4 632.1,576.5 632.8,565.6 633.5,569.4 634.2,566.8 634.9,585.4 635.6,571.2 636.2,569.5 636.9,569.8 637.6,578.1 638.3,571.0 639.0,570.0 639.7,568.5 640.4,581.7 641.1,569.5 641.8,569.5 642.5,565.8 643.2,575.8 643.8,567.9 643.9,568.4 644.6,590.0 645.3,568.4 645.9,585.0 646.6,570.5 647.3,573.1 648.0,569.5 648.7,587.4 649.4,569.7 650.1,565.8 650.7,565.3 651.4,574.1 652.1,564.0 652.8,565.7 653.5,566.1 654.2,573.0 654.9,565.6 655.6,568.5 656.3,568.5 657.0,577.6 657.7,568.1 658.3,565.0 659.0,564.0 659.7,580.8 660.4,566.9 661.1,567.9 661.8,567.7 662.5,578.4 663.2,571.1 663.6,572.7 664.3,606.0 665.0,572.7 665.3,578.6 665.9,570.7 666.6,571.1 667.3,571.0 668.0,576.8 668.7,569.7 669.4,570.9 670.1,568.6 670.8,581.5 671.5,571.0 672.2,568.3 672.8,569.2 673.5,583.3 674.2,565.8 674.9,566.2 675.6,565.9 676.3,577.0 677.0,565.9 677.3,571.4 678.0,598.6 678.7,571.4 679.1,590.2 679.8,576.4 680.4,574.9 681.1,574.6 681.8,589.0 682.5,574.3 683.2,571.7 683.9,570.4 684.6,582.1 685.3,572.2 686.0,573.5 686.7,570.0 687.3,579.1 687.0,691.8"/>
<polygon fill="#ED7D31" points="28.9,691.8 28.9,619.8 29.9,619.8 30.9,619.7 31.9,621.2 32.9,617.8 33.9,615.8 34.9,618.7 35.9,618.5 36.9,618.9 37.9,622.3 38.9,620.3 39.9,615.6 40.9,619.9 41.9,621.2 42.9,618.8 43.9,617.5 44.9,614.5 45.9,616.3 46.9,618.3 47.9,612.3 48.9,612.3 49.9,612.2 50.9,617.6 51.9,620.4 52.9,616.7 53.5,624.4 54.9,613.7 55.9,618.8 56.9,614.6 57.9,617.9 58.9,613.1 59.9,613.0 60.9,610.2 61.9,611.5 62.9,611.2 63.9,613.0 64.9,613.3 65.9,613.4 66.9,612.2 67.9,615.9 68.9,615.2 69.9,614.8 70.9,612.4 71.9,615.0 72.9,608.5 73.9,614.6 74.9,610.4 75.9,616.5 76.9,615.8 77.9,611.9 78.9,615.0 79.9,619.3 80.9,616.6 81.9,618.3 82.9,615.2 83.9,616.4 84.9,619.4 85.9,614.6 86.9,616.8 87.9,615.1 88.9,614.4 89.9,612.5 90.9,615.4 91.9,611.5 92.9,612.4 93.9,613.1 94.9,614.8 95.9,614.3 96.9,611.4 97.9,611.3 98.9,614.3 99.9,613.8 100.9,613.2 101.9,614.9 102.9,615.8 103.9,613.5 104.9,615.6 105.9,613.6 106.9,614.3 107.9,615.0 108.9,612.1 109.9,615.0 110.9,614.9 111.9,608.4 112.9,618.3 113.9,612.3 114.9,613.2 115.9,611.9 116.9,613.6 117.9,614.1 118.9,614.7 119.9,613.4 120.9,611.6 121.9,614.4 122.9,614.6 123.9,617.7 124.9,614.3 125.9,612.9 126.9,615.0 127.9,613.1 128.9,611.0 129.9,617.7 130.9,618.9 131.9,615.5 132.9,620.7 133.9,615.2 134.9,616.6 135.9,616.6 136.9,620.1 137.9,615.0 138.9,616.3 140.3,600.8 141.9,617.0 142.9,611.2 143.9,615.0 144.9,614.4 145.9,619.3 146.9,614.2 147.9,617.3 148.9,614.7 149.9,617.4 150.9,617.1 151.9,617.4 152.9,615.2 153.9,614.7 154.9,616.2 155.9,615.1 156.9,616.1 157.9,617.3 158.9,613.8 159.9,614.9 160.9,612.4 161.9,617.1 162.9,617.6 163.9,618.3 164.9,614.8 165.9,616.6 166.9,618.3 167.9,617.8 168.9,616.8 169.9,616.7 170.9,617.2 171.9,620.8 172.6,630.6 173.9,618.9 174.9,612.3 175.9,618.7 176.9,616.5 177.9,616.1 178.9,612.1 179.9,616.0 180.9,615.0 181.9,609.8 182.9,614.9 183.9,612.3 184.9,619.7 185.9,617.5 186.9,616.8 187.9,616.5 188.9,611.1 189.9,616.0 190.9,614.0 191.9,610.5 192.9,617.6 193.9,615.9 194.9,616.4 195.9,616.7 196.9,614.7 197.9,615.7 198.9,618.2 199.9,612.4 201.1,605.8 201.9,614.7 202.9,622.9 203.9,622.8 204.9,632.1 205.9,633.9 206.9,636.4 207.9,636.9 208.9,635.9 209.9,639.0 210.9,641.0 211.9,636.1 212.9,632.5 213.9,642.0 214.9,637.2 215.9,631.5 216.9,635.6 217.9,640.5 218.9,631.3 219.9,635.0 220.9,633.1 221.9,635.0 222.9,636.9 223.9,630.3 224.9,629.7 225.9,633.9 226.9,625.3 227.9,629.7 228.9,621.6 229.9,621.5 230.9,620.2 231.9,621.3 232.9,620.3 233.9,621.0 234.9,619.7 235.9,621.1 236.9,625.6 237.9,620.8 238.9,619.8 239.9,618.6 240.9,624.3 241.9,619.5 242.9,616.4 243.9,625.6 244.9,619.1 245.9,619.6 246.9,621.9 247.9,620.0 248.9,618.0 249.9,620.0 250.9,619.7 251.9,618.7 252.9,614.8 253.9,622.6 254.9,620.9 255.9,613.6 256.9,617.4 257.9,617.6 258.9,614.0 259.9,616.8 260.9,614.0 261.9,610.1 262.9,612.8 263.9,616.8 264.9,618.8 265.9,619.8 266.9,624.6 267.9,620.6 268.9,622.0 269.9,617.3 270.9,620.9 271.9,619.6 272.9,618.4 273.9,615.9 274.9,616.8 275.9,618.4 276.9,620.5 277.9,621.3 278.9,625.6 279.9,618.5 280.9,622.8 281.9,620.5 282.9,623.4 283.9,616.8 284.9,621.0 285.9,618.0 286.9,615.0 287.9,623.4 288.9,619.9 289.9,619.6 290.9,620.3 291.9,620.0 292.9,624.4 293.9,621.7 294.9,622.9 295.9,618.9 296.9,623.5 297.9,622.6 298.9,622.4 299.9,625.0 300.9,618.7 301.9,621.3 302.9,621.8 303.9,623.2 304.9,618.9 305.9,616.9 306.9,621.6 307.9,620.8 308.9,621.9 309.9,619.1 310.9,622.8 311.9,622.1 312.9,624.4 313.5,610.7 315.2,635.5 315.9,622.0 316.9,623.7 317.9,625.1 318.9,623.3 319.9,623.4 320.9,622.4 321.9,625.7 322.9,620.5 323.9,622.6 324.9,623.5 325.9,626.9 326.9,623.4 327.9,624.4 328.9,622.1 329.9,624.4 330.9,623.9 331.9,623.8 332.9,618.4 333.9,621.6 334.9,627.8 335.9,622.7 336.9,619.9 337.9,617.1 338.9,622.1 339.9,620.8 340.9,621.7 341.9,615.0 342.9,618.5 343.9,616.2 344.9,616.0 345.9,617.3 346.9,614.5 347.9,619.8 348.9,615.3 349.9,614.5 350.9,615.6 351.9,614.0 352.9,616.0 353.9,619.1 354.9,616.0 355.9,615.4 356.9,614.5 357.9,616.2 358.9,609.9 359.9,616.5 360.9,614.9 361.9,615.1 362.9,616.5 363.9,615.0 364.9,617.1 365.9,617.2 366.9,614.0 367.9,615.6 368.9,616.8 369.9,618.1 370.9,616.7 371.9,617.9 372.9,618.0 373.9,615.8 374.9,617.4 375.9,616.0 376.9,620.1 377.9,617.0 378.9,613.5 379.9,615.0 380.9,615.6 381.9,610.7 382.9,613.5 383.9,610.9 384.9,608.8 385.9,616.7 386.9,614.4 387.9,612.6 388.9,609.4 389.9,613.6 390.9,614.3 391.9,615.9 392.9,616.5 393.9,616.4 394.9,619.1 395.9,620.2 396.9,619.7 397.9,623.9 398.9,618.8 399.9,616.6 400.9,613.1 401.9,615.2 402.9,615.2 403.9,615.3 404.9,612.4 405.9,613.4 406.9,618.4 407.9,618.4 408.9,615.0 409.9,614.3 410.9,612.9 411.9,612.4 412.9,614.2 413.9,615.7 414.9,613.0 415.9,615.2 416.9,613.2 417.9,609.9 418.9,615.8 419.9,615.1 420.9,615.3 421.9,614.4 422.9,616.4 423.9,615.6 424.9,618.2 425.9,617.9 426.9,616.4 427.9,615.8 428.9,615.4 429.9,617.4 430.9,617.4 431.9,617.4 432.9,617.1 433.9,617.0 434.9,615.1 435.9,622.1 436.9,618.5 437.9,618.6 438.9,616.9 439.9,619.2 440.9,619.4 441.9,616.8 442.9,617.1 443.9,618.5 444.9,620.7 445.9,623.4 446.9,621.1 447.9,615.2 448.9,620.1 449.9,621.2 450.9,617.9 451.9,617.9 452.9,622.1 453.9,616.4 454.9,616.9 455.9,620.1 456.9,617.5 457.9,621.3 458.9,621.6 459.9,618.4 460.9,623.7 461.9,621.8 462.9,623.1 463.9,627.8 464.9,631.5 465.9,624.6 466.9,631.7 467.9,628.1 468.9,624.0 469.9,624.7 470.9,624.1 471.9,625.0 472.9,623.3 473.9,623.8 474.9,620.2 475.9,612.8 476.9,611.5 477.9,607.6 478.9,607.8 479.9,609.5 480.9,605.1 481.9,611.9 482.9,610.1 483.9,616.9 484.9,610.5 485.9,617.9 486.9,612.1 487.9,612.6 488.9,614.5 489.9,611.8 490.9,614.7 491.9,615.0 492.9,612.2 493.9,614.9 494.9,616.5 495.9,615.8 496.9,613.8 497.9,615.3 498.9,615.4 499.9,614.7 500.9,618.4 501.6,617.7 502.3,624.5 503.0,618.4 503.7,617.9 504.4,616.6 505.0,625.5 505.7,617.4 506.4,616.2 507.1,617.0 507.8,628.4 508.5,616.8 509.2,615.3 509.9,615.2 510.6,626.7 511.3,615.5 511.9,615.7 512.6,616.7 513.3,627.9 514.0,615.6 514.7,614.8 515.4,615.5 516.1,624.8 516.8,616.6 517.5,616.7 518.2,616.1 518.9,634.9 519.5,618.3 519.8,619.2 520.5,647.0 521.2,619.2 521.6,630.6 522.3,619.8 523.0,618.4 523.7,619.1 524.4,630.8 525.1,620.0 525.8,621.0 526.5,622.0 527.1,630.8 527.8,622.0 528.5,621.6 529.2,622.0 529.9,634.7 530.6,622.6 531.3,620.4 532.0,622.3 532.7,627.5 533.4,621.6 533.5,622.6 534.2,655.0 534.9,622.6 535.4,632.9 536.1,621.5 536.8,621.6 537.5,621.2 538.2,628.2 538.9,622.4 539.6,621.6 540.3,620.4 541.0,638.5 541.6,622.3 542.3,621.0 543.0,621.9 543.7,637.0 544.4,619.4 545.1,620.1 545.8,621.3 546.5,634.0 547.2,620.5 547.9,620.2 548.5,619.6 549.2,629.1 549.9,618.6 550.6,618.7 551.3,618.6 552.0,628.2 552.7,617.8 553.4,617.2 554.1,616.6 554.8,631.5 555.5,616.2 556.1,617.3 556.8,616.7 557.5,629.1 558.2,617.0 558.6,616.6 559.3,645.0 560.0,616.6 560.3,622.8 561.0,616.7 561.7,616.3 562.4,616.0 563.0,623.4 563.7,616.5 564.4,614.8 565.1,615.1 565.8,628.0 566.5,614.9 567.2,616.0 567.9,616.9 568.6,626.0 569.3,616.4 570.0,616.7 570.6,615.3 571.3,621.8 572.0,615.2 572.7,615.2 573.4,615.8 574.1,625.0 574.8,615.9 575.5,615.0 576.2,616.7 576.9,628.1 577.6,615.9 578.2,616.9 578.9,615.2 579.6,632.8 580.3,616.6 581.0,615.7 581.7,616.4 582.4,627.7 583.1,615.5 583.8,617.0 584.5,616.9 585.1,622.5 585.8,614.8 586.5,614.9 587.2,615.4 587.9,622.3 588.6,614.8 589.3,616.0 590.0,616.3 590.7,616.6 591.4,664.0 592.1,616.6 592.7,615.5 593.4,624.0 594.1,615.6 594.8,614.6 595.5,615.6 596.2,627.8 596.9,614.6 597.6,615.5 598.3,616.0 599.0,631.5 599.6,615.5 600.3,614.6 601.0,616.6 601.7,630.7 602.4,618.1 602.8,622.2 603.5,662.0 604.2,622.2 604.5,640.8 605.2,622.5 605.9,622.5 606.6,658.0 607.3,622.5 607.9,618.9 608.6,620.2 609.3,617.9 610.0,627.9 610.7,618.4 610.9,618.3 611.6,640.0 612.3,618.3 612.8,628.5 613.5,618.0 614.2,616.0 614.8,616.7 615.5,626.4 616.2,617.0 616.9,616.7 617.6,617.7 618.3,625.3 619.0,616.4 619.7,617.2 620.4,616.9 621.1,631.8 621.7,616.2 622.4,618.2 623.1,616.6 623.8,634.7 624.5,616.1 624.6,617.8 625.3,641.0 626.0,617.8 626.6,626.4 627.3,617.8 628.0,618.0 628.7,617.3 629.3,623.8 630.0,616.4 630.7,618.3 631.4,618.4 632.1,634.2 632.8,617.8 633.5,616.4 634.2,617.6 634.9,631.6 635.6,617.0 636.2,616.1 636.9,618.1 637.6,625.0 638.3,615.8 639.0,616.1 639.7,617.0 640.4,629.4 641.1,616.9 641.8,615.8 642.5,615.7 643.2,631.6 643.8,616.7 643.9,617.4 644.6,638.0 645.3,617.4 645.9,634.0 646.6,616.7 647.3,616.3 648.0,617.4 648.7,622.2 649.4,615.8 650.1,615.1 650.7,616.4 651.4,621.7 652.1,616.4 652.8,615.9 653.5,614.6 654.2,624.7 654.9,614.6 655.6,614.8 656.3,615.3 657.0,625.0 657.7,615.0 658.3,615.0 659.0,614.7 659.7,623.9 660.4,616.4 661.1,614.9 661.8,617.1 662.5,623.9 663.2,615.7 663.6,617.3 664.3,645.7 665.0,617.3 665.3,630.6 665.9,616.7 666.6,617.7 667.3,616.3 668.0,628.3 668.7,616.8 669.4,616.5 670.1,616.6 670.8,630.0 671.5,616.0 672.2,615.6 672.8,615.9 673.5,631.9 674.2,617.6 674.9,616.4 675.6,617.7 676.3,628.1 677.0,617.5 677.3,617.3 678.0,641.0 678.7,617.3 679.1,632.0 679.8,617.6 680.4,617.3 681.1,617.4 681.8,624.5 682.5,616.1 683.2,617.6 683.9,616.6 684.6,631.9 685.3,617.6 686.0,617.0 686.7,617.0 687.3,634.1 687.0,691.8"/>
<path d="M29.0,425.8 V692.5 H686" fill="none" stroke="#000" stroke-width="1.8" stroke-linejoin="round"/>
<text transform="translate(16.5,696.0) scale(1.05,1)" text-anchor="end">0</text>
<text transform="translate(16.5,662.7) scale(1.05,1)" text-anchor="end">2</text>
<text transform="translate(16.5,629.5) scale(1.05,1)" text-anchor="end">4</text>
<text transform="translate(16.5,596.2) scale(1.05,1)" text-anchor="end">6</text>
<text transform="translate(16.5,563.0) scale(1.05,1)" text-anchor="end">8</text>
<text transform="translate(16.5,529.7) scale(1.05,1)" text-anchor="end">10</text>
<text transform="translate(16.5,496.5) scale(1.05,1)" text-anchor="end">12</text>
<text transform="translate(16.5,463.2) scale(1.05,1)" text-anchor="end">14</text>
<text transform="translate(16.5,430.0) scale(1.05,1)" text-anchor="end">16</text>
<text transform="translate(33.9,701.1) scale(1.05,1.025) rotate(-90)" text-anchor="end">Jan-19</text>
<text transform="translate(46.2,701.1) scale(1.05,1.025) rotate(-90)" text-anchor="end">Feb-19</text>
<text transform="translate(57.2,701.1) scale(1.05,1.025) rotate(-90)" text-anchor="end">Mar-19</text>
<text transform="translate(69.5,701.1) scale(1.05,1.025) rotate(-90)" text-anchor="end">Apr-19</text>
<text transform="translate(81.3,701.1) scale(1.05,1.025) rotate(-90)" text-anchor="end">May-19</text>
<text transform="translate(93.6,701.1) scale(1.05,1.025) rotate(-90)" text-anchor="end">Jun-19</text>
<text transform="translate(105.4,701.1) scale(1.05,1.025) rotate(-90)" text-anchor="end">Jul-19</text>
<text transform="translate(117.7,701.1) scale(1.05,1.025) rotate(-90)" text-anchor="end">Aug-19</text>
<text transform="translate(130.0,701.1) scale(1.05,1.025) rotate(-90)" text-anchor="end">Sep-19</text>
<text transform="translate(141.8,701.1) scale(1.05,1.025) rotate(-90)" text-anchor="end">Oct-19</text>
<text transform="translate(154.1,701.1) scale(1.05,1.025) rotate(-90)" text-anchor="end">Nov-19</text>
<text transform="translate(165.9,701.1) scale(1.05,1.025) rotate(-90)" text-anchor="end">Dec-19</text>
<text transform="translate(178.2,701.1) scale(1.05,1.025) rotate(-90)" text-anchor="end">Jan-20</text>
<text transform="translate(190.4,701.1) scale(1.05,1.025) rotate(-90)" text-anchor="end">Feb-20</text>
<text transform="translate(201.9,701.1) scale(1.05,1.025) rotate(-90)" text-anchor="end">Mar-20</text>
<text transform="translate(214.2,701.1) scale(1.05,1.025) rotate(-90)" text-anchor="end">Apr-20</text>
<text transform="translate(226.0,701.1) scale(1.05,1.025) rotate(-90)" text-anchor="end">May-20</text>
<text transform="translate(238.3,701.1) scale(1.05,1.025) rotate(-90)" text-anchor="end">Jun-20</text>
<text transform="translate(250.1,701.1) scale(1.05,1.025) rotate(-90)" text-anchor="end">Jul-20</text>
<text transform="translate(262.4,701.1) scale(1.05,1.025) rotate(-90)" text-anchor="end">Aug-20</text>
<text transform="translate(274.6,701.1) scale(1.05,1.025) rotate(-90)" text-anchor="end">Sep-20</text>
<text transform="translate(286.5,701.1) scale(1.05,1.025) rotate(-90)" text-anchor="end">Oct-20</text>
<text transform="translate(298.8,701.1) scale(1.05,1.025) rotate(-90)" text-anchor="end">Nov-20</text>
<text transform="translate(310.6,701.1) scale(1.05,1.025) rotate(-90)" text-anchor="end">Dec-20</text>
<text transform="translate(322.9,701.1) scale(1.05,1.025) rotate(-90)" text-anchor="end">Jan-21</text>
<text transform="translate(335.1,701.1) scale(1.05,1.025) rotate(-90)" text-anchor="end">Feb-21</text>
<text transform="translate(346.2,701.1) scale(1.05,1.025) rotate(-90)" text-anchor="end">Mar-21</text>
<text transform="translate(358.4,701.1) scale(1.05,1.025) rotate(-90)" text-anchor="end">Apr-21</text>
<text transform="translate(370.3,701.1) scale(1.05,1.025) rotate(-90)" text-anchor="end">May-21</text>
<text transform="translate(382.6,701.1) scale(1.05,1.025) rotate(-90)" text-anchor="end">Jun-21</text>
<text transform="translate(394.4,701.1) scale(1.05,1.025) rotate(-90)" text-anchor="end">Jul-21</text>
<text transform="translate(406.7,701.1) scale(1.05,1.025) rotate(-90)" text-anchor="end">Aug-21</text>
<text transform="translate(418.9,701.1) scale(1.05,1.025) rotate(-90)" text-anchor="end">Sep-21</text>
<text transform="translate(430.8,701.1) scale(1.05,1.025) rotate(-90)" text-anchor="end">Oct-21</text>
<text transform="translate(443.0,701.1) scale(1.05,1.025) rotate(-90)" text-anchor="end">Nov-21</text>
<text transform="translate(454.9,701.1) scale(1.05,1.025) rotate(-90)" text-anchor="end">Dec-21</text>
<text transform="translate(467.1,701.1) scale(1.05,1.025) rotate(-90)" text-anchor="end">Jan-22</text>
<text transform="translate(479.4,701.1) scale(1.05,1.025) rotate(-90)" text-anchor="end">Feb-22</text>
<text transform="translate(490.5,701.1) scale(1.05,1.025) rotate(-90)" text-anchor="end">Mar-22</text>
<text transform="translate(502.7,701.1) scale(1.05,1.025) rotate(-90)" text-anchor="end">Apr-22</text>
<text transform="translate(514.6,701.1) scale(1.05,1.025) rotate(-90)" text-anchor="end">May-22</text>
<text transform="translate(526.8,701.1) scale(1.05,1.025) rotate(-90)" text-anchor="end">Jun-22</text>
<text transform="translate(538.7,701.1) scale(1.05,1.025) rotate(-90)" text-anchor="end">Jul-22</text>
<text transform="translate(551.0,701.1) scale(1.05,1.025) rotate(-90)" text-anchor="end">Aug-22</text>
<text transform="translate(563.2,701.1) scale(1.05,1.025) rotate(-90)" text-anchor="end">Sep-22</text>
<text transform="translate(575.1,701.1) scale(1.05,1.025) rotate(-90)" text-anchor="end">Oct-22</text>
<text transform="translate(587.3,701.1) scale(1.05,1.025) rotate(-90)" text-anchor="end">Nov-22</text>
<text transform="translate(599.2,701.1) scale(1.05,1.025) rotate(-90)" text-anchor="end">Dec-22</text>
<text transform="translate(611.4,701.1) scale(1.05,1.025) rotate(-90)" text-anchor="end">Jan-23</text>
<text transform="translate(623.7,701.1) scale(1.05,1.025) rotate(-90)" text-anchor="end">Feb-23</text>
<text transform="translate(634.8,701.1) scale(1.05,1.025) rotate(-90)" text-anchor="end">Mar-23</text>
<text transform="translate(647.0,701.1) scale(1.05,1.025) rotate(-90)" text-anchor="end">Apr-23</text>
<text transform="translate(658.9,701.1) scale(1.05,1.025) rotate(-90)" text-anchor="end">May-23</text>
<text transform="translate(671.1,701.1) scale(1.05,1.025) rotate(-90)" text-anchor="end">Jun-23</text>
<text transform="translate(683.0,701.1) scale(1.05,1.025) rotate(-90)" text-anchor="end">Jul-23</text>
<rect x="239.9" y="406.5" width="7.4" height="7.4" fill="#ED7D31"/><text transform="translate(254.5,414.7) scale(1.05,1)">Transport</text>
<rect x="327" y="406.5" width="7.4" height="7.4" fill="#A5A5A5"/><text transform="translate(341,414.7) scale(1.05,1)">Industry</text>
<rect x="406.3" y="406.5" width="7.4" height="7.4" fill="#5B9BD5"/><text transform="translate(420.6,414.7) scale(1.05,1)">Power</text>
<text x="241.6" y="785.6" font-size="19.0" font-weight="bold">b)</text>
<text x="269.2" y="785.6" font-size="19.0" font-weight="bold">CO<tspan font-size="12.2">2</tspan><tspan dx="1.3"> Emissions in the USA</tspan></text>
</svg>
</body></html>
